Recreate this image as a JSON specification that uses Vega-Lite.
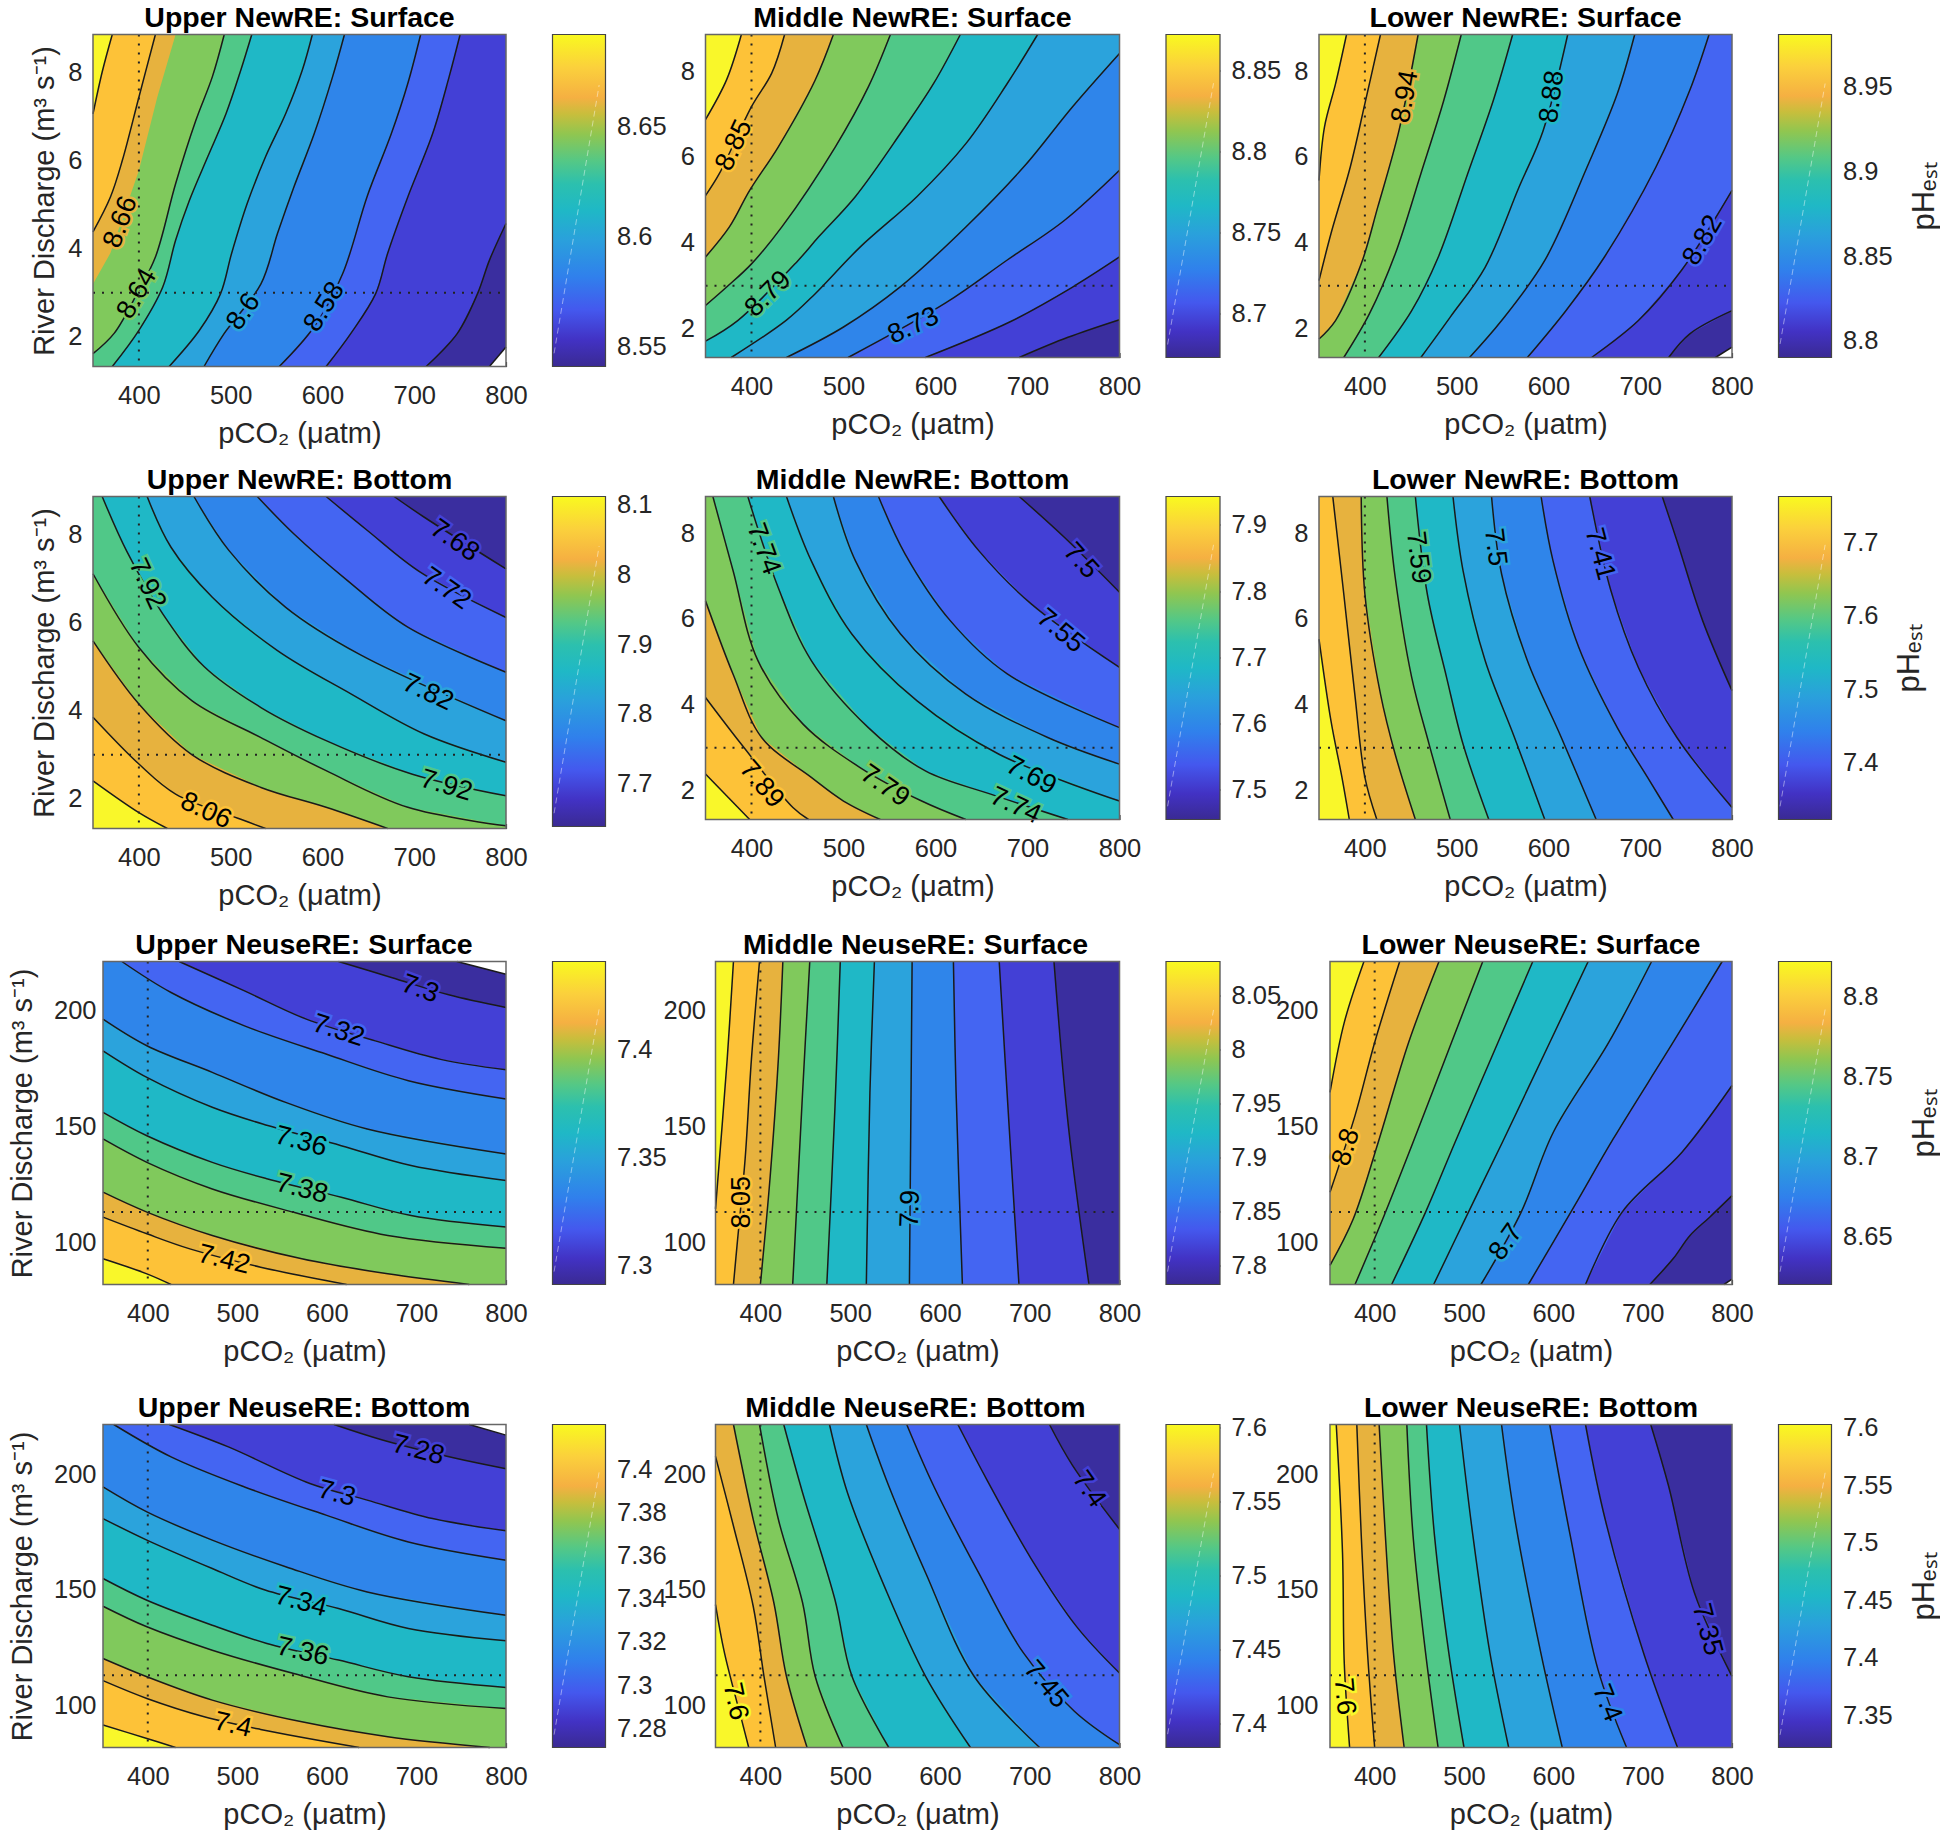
{"$schema":"https://vega.github.io/schema/vega-lite/v6.json","background":"white","padding":{"left":8,"top":3.5,"right":0,"bottom":0},"spacing":{"row":100,"column":46.5},"columns":8,"bounds":"flush","align":"each",
"config":{"view":{"stroke":null},"title":{"font":"Liberation Sans","fontSize":28.5,"fontWeight":"bold","color":"#000","offset":-1,"anchor":"middle"},"text":{"font":"Liberation Sans"},"axis":{"labelFont":"Liberation Sans","labelFontSize":25.5,"labelColor":"#262626","labelFlush":false,"labelOverlap":false,"titleFont":"Liberation Sans","titleFontSize":29,"titleFontWeight":"normal","titleColor":"#262626","grid":false,"domain":false,"tickSize":-5,"tickColor":"#333","tickWidth":1.2,"labelPadding":22,"zindex":1}},
"datasets":{
"a":[{"k":0,"x":800,"y":1.77},{"k":0,"x":782,"y":1.33},{"k":0,"x":350,"y":1.33,"e":1},{"k":0,"x":350,"y":8.85,"e":1},{"k":0,"x":800,"y":8.85,"e":1},
{"k":1,"x":800,"y":4.57},{"k":1,"x":782,"y":3.74},{"k":1,"x":769,"y":2.98},{"k":1,"x":747,"y":2.08},{"k":1,"x":713,"y":1.33},{"k":1,"x":350,"y":1.33,"e":1},{"k":1,"x":350,"y":8.85,"e":1},{"k":1,"x":800,"y":8.85,"e":1},
{"k":2,"x":750,"y":8.85},{"k":2,"x":738,"y":7.89},{"k":2,"x":720,"y":6.6},{"k":2,"x":693,"y":5.17},{"k":2,"x":671,"y":3.89},{"k":2,"x":658,"y":2.98},{"k":2,"x":631,"y":2.08},{"k":2,"x":604,"y":1.33},{"k":2,"x":350,"y":1.33,"e":1},{"k":2,"x":350,"y":8.85,"e":1},
{"k":3,"x":707,"y":8.85},{"k":3,"x":693,"y":7.74},{"k":3,"x":675,"y":6.6},{"k":3,"x":649,"y":5.2},{"k":3,"x":622,"y":3.43},{"k":3,"x":591,"y":2.23},{"k":3,"x":553,"y":1.33},{"k":3,"x":350,"y":1.33,"e":1},{"k":3,"x":350,"y":8.85,"e":1},
{"k":4,"x":624,"y":8.85},{"k":4,"x":611,"y":7.89},{"k":4,"x":591,"y":6.6},{"k":4,"x":569,"y":5.4},{"k":4,"x":551,"y":4.34},{"k":4,"x":533,"y":3.2},{"k":4,"x":493,"y":2.08},{"k":4,"x":471,"y":1.33},{"k":4,"x":350,"y":1.33,"e":1},{"k":4,"x":350,"y":8.85,"e":1},
{"k":5,"x":589,"y":8.85},{"k":5,"x":578,"y":8.04},{"k":5,"x":560,"y":7.06},{"k":5,"x":538,"y":6.08},{"k":5,"x":518,"y":5.02},{"k":5,"x":501,"y":3.89},{"k":5,"x":489,"y":2.98},{"k":5,"x":466,"y":2.15},{"k":5,"x":433,"y":1.33},{"k":5,"x":350,"y":1.33,"e":1},{"k":5,"x":350,"y":8.85,"e":1},
{"k":6,"x":523,"y":8.85},{"k":6,"x":511,"y":8.04},{"k":6,"x":495,"y":7.06},{"k":6,"x":475,"y":6.08},{"k":6,"x":455,"y":5.09},{"k":6,"x":440,"y":4.19},{"k":6,"x":426,"y":3.13},{"k":6,"x":400,"y":2.15},{"k":6,"x":371,"y":1.33},{"k":6,"x":350,"y":1.33,"e":1},{"k":6,"x":350,"y":8.85,"e":1},
{"k":7,"x":493,"y":8.85},{"k":7,"x":480,"y":7.89},{"k":7,"x":462,"y":6.9},{"k":7,"x":440,"y":5.47},{"k":7,"x":418,"y":3.81},{"k":7,"x":398,"y":2.98},{"k":7,"x":373,"y":2.08},{"k":7,"x":350,"y":1.62},{"k":7,"x":350,"y":8.85,"e":1},
{"k":8,"x":440,"y":8.85,"e":1},{"k":8,"x":420,"y":7.43,"e":1},{"k":8,"x":400,"y":5.77,"e":1},{"k":8,"x":369,"y":3.9,"e":1},{"k":8,"x":350,"y":3.2,"e":1},{"k":8,"x":350,"y":8.85,"e":1},
{"k":9,"x":418,"y":8.85},{"k":9,"x":400,"y":7.43},{"k":9,"x":382,"y":6},{"k":9,"x":369,"y":5.17},{"k":9,"x":350,"y":4.38},{"k":9,"x":350,"y":8.85,"e":1},
{"k":10,"x":371,"y":8.85},{"k":10,"x":360,"y":8},{"k":10,"x":350,"y":7.05},{"k":10,"x":350,"y":8.85,"e":1}],
"la":[{"x":380,"y":4.6,"t":"8.66","a":-70,"k":8},{"x":398,"y":2.98,"t":"8.64","a":-60,"k":7},{"x":514,"y":2.57,"t":"8.6","a":-55,"k":4},{"x":602,"y":2.68,"t":"8.58","a":-58,"k":3}],
"b":[{"k":0,"x":350,"y":1.33,"e":1},{"k":0,"x":800,"y":1.33,"e":1},{"k":0,"x":800,"y":8.85,"e":1},{"k":0,"x":350,"y":8.85,"e":1},
{"k":1,"x":800,"y":2.21},{"k":1,"x":744,"y":1.8},{"k":1,"x":691,"y":1.33},{"k":1,"x":350,"y":1.33,"e":1},{"k":1,"x":350,"y":8.85,"e":1},{"k":1,"x":800,"y":8.85,"e":1},
{"k":2,"x":800,"y":3.67},{"k":2,"x":749,"y":2.97},{"k":2,"x":680,"y":2.15},{"k":2,"x":589,"y":1.33},{"k":2,"x":350,"y":1.33,"e":1},{"k":2,"x":350,"y":8.85,"e":1},{"k":2,"x":800,"y":8.85,"e":1},
{"k":3,"x":800,"y":5.69},{"k":3,"x":740,"y":4.52},{"k":3,"x":678,"y":3.6},{"k":3,"x":611,"y":2.6},{"k":3,"x":505,"y":1.33},{"k":3,"x":350,"y":1.33,"e":1},{"k":3,"x":350,"y":8.85,"e":1},{"k":3,"x":800,"y":8.85,"e":1},
{"k":4,"x":800,"y":8.41},{"k":4,"x":749,"y":7.17},{"k":4,"x":696,"y":5.77},{"k":4,"x":633,"y":4.37},{"k":4,"x":562,"y":2.98},{"k":4,"x":500,"y":2.04},{"k":4,"x":438,"y":1.33},{"k":4,"x":350,"y":1.33,"e":1},{"k":4,"x":350,"y":8.85,"e":1},{"k":4,"x":800,"y":8.85,"e":1},
{"k":5,"x":711,"y":8.85},{"k":5,"x":678,"y":7.71},{"k":5,"x":633,"y":6.31},{"k":5,"x":580,"y":5.08},{"k":5,"x":518,"y":3.9},{"k":5,"x":469,"y":2.81},{"k":5,"x":438,"y":2.2},{"k":5,"x":378,"y":1.33},{"k":5,"x":350,"y":1.33,"e":1},{"k":5,"x":350,"y":8.85,"e":1},
{"k":6,"x":627,"y":8.85},{"k":6,"x":598,"y":7.71},{"k":6,"x":562,"y":6.55},{"k":6,"x":513,"y":5.08},{"k":6,"x":473,"y":4.14},{"k":6,"x":449,"y":3.55},{"k":6,"x":385,"y":2.19},{"k":6,"x":350,"y":1.71},{"k":6,"x":350,"y":8.85,"e":1},
{"k":7,"x":551,"y":8.85},{"k":7,"x":527,"y":7.63},{"k":7,"x":491,"y":6.23},{"k":7,"x":433,"y":4.37},{"k":7,"x":400,"y":3.51},{"k":7,"x":373,"y":2.97},{"k":7,"x":350,"y":2.54},{"k":7,"x":350,"y":8.85,"e":1},
{"k":8,"x":489,"y":8.85},{"k":8,"x":469,"y":7.78},{"k":8,"x":429,"y":6.23},{"k":8,"x":398,"y":5.22},{"k":8,"x":376,"y":4.37},{"k":8,"x":350,"y":3.67},{"k":8,"x":350,"y":8.85,"e":1},
{"k":9,"x":436,"y":8.85},{"k":9,"x":422,"y":7.95},{"k":9,"x":400,"y":7.17},{"k":9,"x":365,"y":5.61},{"k":9,"x":350,"y":5.1},{"k":9,"x":350,"y":8.85,"e":1},
{"k":10,"x":389,"y":8.85},{"k":10,"x":373,"y":7.8},{"k":10,"x":350,"y":6.87},{"k":10,"x":350,"y":8.85,"e":1}],
"lb":[{"x":381,"y":6.27,"t":"8.85","a":-65,"k":9},{"x":418,"y":2.81,"t":"8.79","a":-45,"k":6},{"x":576,"y":2.07,"t":"8.73","a":-25,"k":3}],
"c":[{"k":0,"x":800,"y":1.57},{"k":0,"x":782,"y":1.33},{"k":0,"x":350,"y":1.33,"e":1},{"k":0,"x":350,"y":8.85,"e":1},{"k":0,"x":800,"y":8.85,"e":1},
{"k":1,"x":800,"y":2.42},{"k":1,"x":754,"y":1.88},{"k":1,"x":731,"y":1.33},{"k":1,"x":350,"y":1.33,"e":1},{"k":1,"x":350,"y":8.85,"e":1},{"k":1,"x":800,"y":8.85,"e":1},
{"k":2,"x":800,"y":5.22},{"k":2,"x":745,"y":3.36},{"k":2,"x":698,"y":2.19},{"k":2,"x":647,"y":1.33},{"k":2,"x":350,"y":1.33,"e":1},{"k":2,"x":350,"y":8.85,"e":1},{"k":2,"x":800,"y":8.85,"e":1},
{"k":3,"x":775,"y":8.85},{"k":3,"x":754,"y":7.55},{"k":3,"x":717,"y":5.76},{"k":3,"x":661,"y":3.67},{"k":3,"x":619,"y":2.42},{"k":3,"x":577,"y":1.33},{"k":3,"x":350,"y":1.33,"e":1},{"k":3,"x":350,"y":8.85,"e":1},
{"k":4,"x":694,"y":8.85},{"k":4,"x":675,"y":7.47},{"k":4,"x":642,"y":5.76},{"k":4,"x":596,"y":3.59},{"k":4,"x":549,"y":2.19},{"k":4,"x":514,"y":1.33},{"k":4,"x":350,"y":1.33,"e":1},{"k":4,"x":350,"y":8.85,"e":1},
{"k":5,"x":621,"y":8.85},{"k":5,"x":594,"y":6.6},{"k":5,"x":568,"y":5.3},{"k":5,"x":531,"y":3.43},{"k":5,"x":493,"y":2.27},{"k":5,"x":461,"y":1.33},{"k":5,"x":350,"y":1.33,"e":1},{"k":5,"x":350,"y":8.85,"e":1},
{"k":6,"x":561,"y":8.85},{"k":6,"x":540,"y":7.32},{"k":6,"x":512,"y":5.61},{"k":6,"x":480,"y":3.67},{"k":6,"x":451,"y":2.42},{"k":6,"x":415,"y":1.33},{"k":6,"x":350,"y":1.33,"e":1},{"k":6,"x":350,"y":8.85,"e":1},
{"k":7,"x":505,"y":8.85},{"k":7,"x":486,"y":7.32},{"k":7,"x":461,"y":5.61},{"k":7,"x":433,"y":3.74},{"k":7,"x":405,"y":2.35},{"k":7,"x":377,"y":1.33},{"k":7,"x":350,"y":1.33,"e":1},{"k":7,"x":350,"y":8.85,"e":1},
{"k":8,"x":458,"y":8.85},{"k":8,"x":437,"y":6.6},{"k":8,"x":414,"y":4.83},{"k":8,"x":396,"y":3.51},{"k":8,"x":368,"y":2.19},{"k":8,"x":350,"y":1.76},{"k":8,"x":350,"y":8.85,"e":1},
{"k":9,"x":417,"y":8.85},{"k":9,"x":400,"y":7.24},{"k":9,"x":384,"y":5.76},{"k":9,"x":363,"y":4.21},{"k":9,"x":350,"y":3.12},{"k":9,"x":350,"y":8.85,"e":1},
{"k":10,"x":380,"y":8.85},{"k":10,"x":368,"y":7.7},{"k":10,"x":356,"y":6.7},{"k":10,"x":350,"y":5.45},{"k":10,"x":350,"y":8.85,"e":1}],
"lc":[{"x":444,"y":7.4,"t":"8.94","a":-80,"k":8},{"x":604,"y":7.4,"t":"8.88","a":-83,"k":5},{"x":768,"y":4.06,"t":"8.82","a":-60,"k":2}],
"d":[{"k":0,"x":350,"y":1.33,"e":1},{"k":0,"x":800,"y":1.33,"e":1},{"k":0,"x":800,"y":8.85,"e":1},{"k":0,"x":350,"y":8.85,"e":1},
{"k":1,"x":678,"y":8.85},{"k":1,"x":711,"y":8.38},{"k":1,"x":800,"y":7.21},{"k":1,"x":800,"y":1.33,"e":1},{"k":1,"x":350,"y":1.33,"e":1},{"k":1,"x":350,"y":8.85,"e":1},
{"k":2,"x":604,"y":8.85},{"k":2,"x":649,"y":8.08},{"k":2,"x":707,"y":7.13},{"k":2,"x":800,"y":6.11},{"k":2,"x":800,"y":1.33,"e":1},{"k":2,"x":350,"y":1.33,"e":1},{"k":2,"x":350,"y":8.85,"e":1},
{"k":3,"x":529,"y":8.85},{"k":3,"x":569,"y":8},{"k":3,"x":627,"y":6.95},{"k":3,"x":693,"y":5.89},{"k":3,"x":800,"y":4.87},{"k":3,"x":800,"y":1.33,"e":1},{"k":3,"x":350,"y":1.33,"e":1},{"k":3,"x":350,"y":8.85,"e":1},
{"k":4,"x":460,"y":8.85},{"k":4,"x":498,"y":7.63},{"k":4,"x":560,"y":6.34},{"k":4,"x":640,"y":5.28},{"k":4,"x":800,"y":3.77},{"k":4,"x":800,"y":1.33,"e":1},{"k":4,"x":350,"y":1.33,"e":1},{"k":4,"x":350,"y":8.85,"e":1},
{"k":5,"x":409,"y":8.85},{"k":5,"x":435,"y":7.7},{"k":5,"x":480,"y":6.57},{"k":5,"x":551,"y":5.36},{"k":5,"x":631,"y":4.38},{"k":5,"x":711,"y":3.47},{"k":5,"x":800,"y":2.83},{"k":5,"x":800,"y":1.33,"e":1},{"k":5,"x":350,"y":1.33,"e":1},{"k":5,"x":350,"y":8.85,"e":1},
{"k":6,"x":360,"y":8.85},{"k":6,"x":387,"y":7.6},{"k":6,"x":426,"y":6.19},{"k":6,"x":471,"y":5},{"k":6,"x":533,"y":4.07},{"k":6,"x":604,"y":3.32},{"k":6,"x":698,"y":2.56},{"k":6,"x":800,"y":2.07},{"k":6,"x":800,"y":1.33,"e":1},{"k":6,"x":350,"y":1.33,"e":1},{"k":6,"x":350,"y":8.85,"e":1},
{"k":7,"x":350,"y":7.1},{"k":7,"x":400,"y":5.43},{"k":7,"x":458,"y":4.22},{"k":7,"x":533,"y":3.39},{"k":7,"x":604,"y":2.64},{"k":7,"x":693,"y":1.81},{"k":7,"x":800,"y":1.39},{"k":7,"x":800,"y":1.33,"e":1},{"k":7,"x":350,"y":1.33,"e":1},
{"k":8,"x":350,"y":5.58},{"k":8,"x":400,"y":4.15},{"k":8,"x":458,"y":3},{"k":8,"x":533,"y":2.26},{"k":8,"x":604,"y":1.81},{"k":8,"x":671,"y":1.33},{"k":8,"x":350,"y":1.33,"e":1},
{"k":9,"x":350,"y":3.85},{"k":9,"x":400,"y":2.79},{"k":9,"x":440,"y":2.11},{"k":9,"x":511,"y":1.54},{"k":9,"x":538,"y":1.33},{"k":9,"x":350,"y":1.33,"e":1},
{"k":10,"x":350,"y":2.41},{"k":10,"x":400,"y":1.69},{"k":10,"x":431,"y":1.33},{"k":10,"x":350,"y":1.33,"e":1}],
"ld":[{"x":744,"y":7.85,"t":"7.68","a":35,"k":1},{"x":735,"y":6.76,"t":"7.72","a":35,"k":2},{"x":715,"y":4.41,"t":"7.82","a":25,"k":4},{"x":735,"y":2.3,"t":"7.92","a":17,"k":6},{"x":409,"y":6.87,"t":"7.92","a":65,"k":6},{"x":473,"y":1.73,"t":"8.06","a":25,"k":9}],
"e":[{"k":0,"x":350,"y":1.33,"e":1},{"k":0,"x":800,"y":1.33,"e":1},{"k":0,"x":800,"y":8.85,"e":1},{"k":0,"x":350,"y":8.85,"e":1},
{"k":1,"x":691,"y":8.85},{"k":1,"x":740,"y":7.9},{"k":1,"x":800,"y":6.62},{"k":1,"x":800,"y":1.33,"e":1},{"k":1,"x":350,"y":1.33,"e":1},{"k":1,"x":350,"y":8.85,"e":1},
{"k":2,"x":604,"y":8.85},{"k":2,"x":647,"y":7.59},{"k":2,"x":704,"y":6.35},{"k":2,"x":800,"y":4.87},{"k":2,"x":800,"y":1.33,"e":1},{"k":2,"x":350,"y":1.33,"e":1},{"k":2,"x":350,"y":8.85,"e":1},
{"k":3,"x":538,"y":8.85},{"k":3,"x":567,"y":7.51},{"k":3,"x":616,"y":5.96},{"k":3,"x":678,"y":4.72},{"k":3,"x":800,"y":3.47},{"k":3,"x":800,"y":1.33,"e":1},{"k":3,"x":350,"y":1.33,"e":1},{"k":3,"x":350,"y":8.85,"e":1},
{"k":4,"x":489,"y":8.85},{"k":4,"x":513,"y":7.35},{"k":4,"x":562,"y":5.65},{"k":4,"x":633,"y":4.25},{"k":4,"x":722,"y":3.24},{"k":4,"x":800,"y":2.62},{"k":4,"x":800,"y":1.33,"e":1},{"k":4,"x":350,"y":1.33,"e":1},{"k":4,"x":350,"y":8.85,"e":1},
{"k":5,"x":438,"y":8.85},{"k":5,"x":465,"y":7.35},{"k":5,"x":509,"y":5.65},{"k":5,"x":580,"y":4.09},{"k":5,"x":669,"y":2.85},{"k":5,"x":800,"y":1.76},{"k":5,"x":800,"y":1.33,"e":1},{"k":5,"x":350,"y":1.33,"e":1},{"k":5,"x":350,"y":8.85,"e":1},
{"k":6,"x":396,"y":8.85},{"k":6,"x":429,"y":6.73},{"k":6,"x":465,"y":5.03},{"k":6,"x":527,"y":3.47},{"k":6,"x":589,"y":2.46},{"k":6,"x":660,"y":1.92},{"k":6,"x":744,"y":1.33},{"k":6,"x":350,"y":1.33,"e":1},{"k":6,"x":350,"y":8.85,"e":1},
{"k":7,"x":358,"y":8.85},{"k":7,"x":380,"y":7.12},{"k":7,"x":407,"y":5.03},{"k":7,"x":456,"y":3.55},{"k":7,"x":518,"y":2.54},{"k":7,"x":585,"y":1.76},{"k":7,"x":633,"y":1.33},{"k":7,"x":350,"y":1.33,"e":1},{"k":7,"x":350,"y":8.85,"e":1},
{"k":8,"x":350,"y":6.42},{"k":8,"x":380,"y":4.71},{"k":8,"x":411,"y":3.24},{"k":8,"x":465,"y":2.31},{"k":8,"x":500,"y":1.76},{"k":8,"x":540,"y":1.33},{"k":8,"x":350,"y":1.33,"e":1},
{"k":9,"x":350,"y":4.17},{"k":9,"x":389,"y":3.08},{"k":9,"x":445,"y":1.61},{"k":9,"x":462,"y":1.33},{"k":9,"x":350,"y":1.33,"e":1},
{"k":10,"x":350,"y":2.39},{"k":10,"x":398,"y":1.33},{"k":10,"x":350,"y":1.33,"e":1}],
"le":[{"x":758,"y":7.35,"t":"7.5","a":48,"k":1},{"x":736,"y":5.72,"t":"7.55","a":40,"k":2},{"x":704,"y":2.35,"t":"7.69","a":28,"k":5},{"x":687,"y":1.65,"t":"7.74","a":25,"k":6},{"x":545,"y":2.11,"t":"7.79","a":35,"k":7},{"x":411,"y":2.15,"t":"7.89","a":50,"k":9},{"x":413,"y":7.63,"t":"7.74","a":70,"k":6}],
"f":[{"k":0,"x":350,"y":1.33,"e":1},{"k":0,"x":800,"y":1.33,"e":1},{"k":0,"x":800,"y":8.85,"e":1},{"k":0,"x":350,"y":8.85,"e":1},
{"k":1,"x":724,"y":8.85},{"k":1,"x":740,"y":7.82},{"k":1,"x":768,"y":5.96},{"k":1,"x":800,"y":4.33},{"k":1,"x":800,"y":1.33,"e":1},{"k":1,"x":350,"y":1.33,"e":1},{"k":1,"x":350,"y":8.85,"e":1},
{"k":2,"x":645,"y":8.85},{"k":2,"x":668,"y":6.66},{"k":2,"x":698,"y":4.87},{"k":2,"x":740,"y":3.24},{"k":2,"x":800,"y":1.61},{"k":2,"x":800,"y":1.33,"e":1},{"k":2,"x":350,"y":1.33,"e":1},{"k":2,"x":350,"y":8.85,"e":1},
{"k":3,"x":592,"y":8.85},{"k":3,"x":605,"y":7.35},{"k":3,"x":633,"y":5.34},{"k":3,"x":675,"y":3.47},{"k":3,"x":708,"y":2.31},{"k":3,"x":736,"y":1.33},{"k":3,"x":350,"y":1.33,"e":1},{"k":3,"x":350,"y":8.85,"e":1},
{"k":4,"x":538,"y":8.85},{"k":4,"x":549,"y":7.04},{"k":4,"x":577,"y":5.03},{"k":4,"x":614,"y":3.24},{"k":4,"x":652,"y":1.33},{"k":4,"x":350,"y":1.33,"e":1},{"k":4,"x":350,"y":8.85,"e":1},
{"k":5,"x":496,"y":8.85},{"k":5,"x":507,"y":7.12},{"k":5,"x":531,"y":5.03},{"k":5,"x":563,"y":3.24},{"k":5,"x":596,"y":1.33},{"k":5,"x":350,"y":1.33,"e":1},{"k":5,"x":350,"y":8.85,"e":1},
{"k":6,"x":455,"y":8.85},{"k":6,"x":468,"y":6.58},{"k":6,"x":489,"y":4.64},{"k":6,"x":507,"y":3.08},{"k":6,"x":535,"y":1.33},{"k":6,"x":350,"y":1.33,"e":1},{"k":6,"x":350,"y":8.85,"e":1},
{"k":7,"x":424,"y":8.85},{"k":7,"x":433,"y":6.97},{"k":7,"x":451,"y":4.64},{"k":7,"x":470,"y":3.08},{"k":7,"x":493,"y":1.33},{"k":7,"x":350,"y":1.33,"e":1},{"k":7,"x":350,"y":8.85,"e":1},
{"k":8,"x":396,"y":8.85},{"k":8,"x":400,"y":6.58},{"k":8,"x":417,"y":4.25},{"k":8,"x":433,"y":2.85},{"k":8,"x":455,"y":1.33},{"k":8,"x":350,"y":1.33,"e":1},{"k":8,"x":350,"y":8.85,"e":1},
{"k":9,"x":365,"y":8.85},{"k":9,"x":377,"y":6.58},{"k":9,"x":389,"y":4.25},{"k":9,"x":400,"y":2.31},{"k":9,"x":413,"y":1.33},{"k":9,"x":350,"y":1.33,"e":1},{"k":9,"x":350,"y":8.85,"e":1},
{"k":10,"x":350,"y":5.53},{"k":10,"x":363,"y":3.63},{"k":10,"x":375,"y":2.31},{"k":10,"x":383,"y":1.33},{"k":10,"x":350,"y":1.33,"e":1}],
"lf":[{"x":458,"y":7.43,"t":"7.59","a":83,"k":6},{"x":542,"y":7.67,"t":"7.5","a":83,"k":4},{"x":656,"y":7.51,"t":"7.41","a":75,"k":2}],
"g":[{"k":0,"x":745,"y":221.3},{"k":0,"x":800,"y":215.8},{"k":0,"x":800,"y":81.7,"e":1},{"k":0,"x":350,"y":81.7,"e":1},{"k":0,"x":350,"y":221.3,"e":1},
{"k":1,"x":613,"y":221.3},{"k":1,"x":672,"y":214.4},{"k":1,"x":736,"y":206.9},{"k":1,"x":800,"y":201.4},{"k":1,"x":800,"y":81.7,"e":1},{"k":1,"x":350,"y":81.7,"e":1},{"k":1,"x":350,"y":221.3,"e":1},
{"k":2,"x":435,"y":221.3},{"k":2,"x":508,"y":208.6},{"k":2,"x":577,"y":196.4},{"k":2,"x":654,"y":187},{"k":2,"x":727,"y":179},{"k":2,"x":800,"y":174.5},{"k":2,"x":800,"y":81.7,"e":1},{"k":2,"x":350,"y":81.7,"e":1},{"k":2,"x":350,"y":221.3,"e":1},
{"k":3,"x":371,"y":221.3},{"k":3,"x":426,"y":207.9},{"k":3,"x":508,"y":193.5},{"k":3,"x":599,"y":181.3},{"k":3,"x":691,"y":169.8},{"k":3,"x":800,"y":161.9},{"k":3,"x":800,"y":81.7,"e":1},{"k":3,"x":350,"y":81.7,"e":1},{"k":3,"x":350,"y":221.3,"e":1},
{"k":4,"x":350,"y":196.4},{"k":4,"x":399,"y":184.9},{"k":4,"x":472,"y":173.4},{"k":4,"x":554,"y":160.4},{"k":4,"x":645,"y":148.9},{"k":4,"x":800,"y":138.1},{"k":4,"x":800,"y":81.7,"e":1},{"k":4,"x":350,"y":81.7,"e":1},
{"k":5,"x":350,"y":182.7},{"k":5,"x":399,"y":171.2},{"k":5,"x":472,"y":158.3},{"k":5,"x":534,"y":150.4},{"k":5,"x":616,"y":141.7},{"k":5,"x":694,"y":133.1},{"k":5,"x":800,"y":126.6},{"k":5,"x":800,"y":81.7,"e":1},{"k":5,"x":350,"y":81.7,"e":1},
{"k":6,"x":350,"y":156.1},{"k":6,"x":399,"y":146},{"k":6,"x":472,"y":134.5},{"k":6,"x":534,"y":127.3},{"k":6,"x":616,"y":119.4},{"k":6,"x":694,"y":111.5},{"k":6,"x":800,"y":106.5},{"k":6,"x":800,"y":81.7,"e":1},{"k":6,"x":350,"y":81.7,"e":1},
{"k":7,"x":350,"y":144.6},{"k":7,"x":399,"y":134.5},{"k":7,"x":472,"y":123},{"k":7,"x":563,"y":112.9},{"k":7,"x":668,"y":102.9},{"k":7,"x":800,"y":97.4},{"k":7,"x":800,"y":81.7,"e":1},{"k":7,"x":350,"y":81.7,"e":1},
{"k":8,"x":350,"y":121.6},{"k":8,"x":399,"y":113},{"k":8,"x":472,"y":102.9},{"k":8,"x":572,"y":92.8},{"k":8,"x":668,"y":86.3},{"k":8,"x":759,"y":81.7},{"k":8,"x":350,"y":81.7,"e":1},
{"k":9,"x":350,"y":110.8},{"k":9,"x":399,"y":103.6},{"k":9,"x":447,"y":97.1},{"k":9,"x":526,"y":89.2},{"k":9,"x":622,"y":81.7},{"k":9,"x":350,"y":81.7,"e":1},
{"k":10,"x":350,"y":92.8},{"k":10,"x":399,"y":86.3},{"k":10,"x":426,"y":81.7},{"k":10,"x":350,"y":81.7,"e":1}],
"lg":[{"x":704,"y":209.4,"t":"7.3","a":20,"k":1},{"x":613,"y":191.4,"t":"7.32","a":18,"k":2},{"x":571,"y":143.5,"t":"7.36","a":15,"k":5},{"x":572,"y":123,"t":"7.38","a":14,"k":6},{"x":485,"y":92.4,"t":"7.42","a":14,"k":9}],
"h":[{"k":0,"x":350,"y":81.7,"e":1},{"k":0,"x":800,"y":81.7,"e":1},{"k":0,"x":800,"y":221.3,"e":1},{"k":0,"x":350,"y":221.3,"e":1},
{"k":1,"x":727,"y":221.3},{"k":1,"x":743,"y":150.4},{"k":1,"x":766,"y":81.7},{"k":1,"x":350,"y":81.7,"e":1},{"k":1,"x":350,"y":221.3,"e":1},
{"k":2,"x":666,"y":221.3},{"k":2,"x":677,"y":150.4},{"k":2,"x":688,"y":81.7},{"k":2,"x":350,"y":81.7,"e":1},{"k":2,"x":350,"y":221.3,"e":1},
{"k":3,"x":615,"y":221.3},{"k":3,"x":618,"y":164.7},{"k":3,"x":625,"y":81.7},{"k":3,"x":350,"y":81.7,"e":1},{"k":3,"x":350,"y":221.3,"e":1},
{"k":4,"x":569,"y":221.3},{"k":4,"x":567,"y":127.3},{"k":4,"x":566,"y":81.7},{"k":4,"x":350,"y":81.7,"e":1},{"k":4,"x":350,"y":221.3,"e":1},
{"k":5,"x":527,"y":221.3},{"k":5,"x":522,"y":164.7},{"k":5,"x":518,"y":81.7},{"k":5,"x":350,"y":81.7,"e":1},{"k":5,"x":350,"y":221.3,"e":1},
{"k":6,"x":489,"y":221.3},{"k":6,"x":483,"y":157.6},{"k":6,"x":474,"y":81.7},{"k":6,"x":350,"y":81.7,"e":1},{"k":6,"x":350,"y":221.3,"e":1},
{"k":7,"x":455,"y":221.3},{"k":7,"x":447,"y":164.7},{"k":7,"x":436,"y":81.7},{"k":7,"x":350,"y":81.7,"e":1},{"k":7,"x":350,"y":221.3,"e":1},
{"k":8,"x":425,"y":221.3},{"k":8,"x":420,"y":179},{"k":8,"x":411,"y":128.8},{"k":8,"x":400,"y":81.7},{"k":8,"x":350,"y":81.7,"e":1},{"k":8,"x":350,"y":221.3,"e":1},
{"k":9,"x":399,"y":221.3},{"k":9,"x":390,"y":179},{"k":9,"x":383,"y":136},{"k":9,"x":374,"y":98.6},{"k":9,"x":370,"y":81.7},{"k":9,"x":350,"y":81.7,"e":1},{"k":9,"x":350,"y":221.3,"e":1},
{"k":10,"x":370,"y":221.3},{"k":10,"x":363,"y":179},{"k":10,"x":350,"y":114.4},{"k":10,"x":350,"y":221.3,"e":1}],
"lh":[{"x":379,"y":117.3,"t":"8.05","a":-90,"k":9},{"x":567,"y":114.4,"t":"7.9","a":-88,"k":4}],
"i":[{"k":0,"x":800,"y":84},{"k":0,"x":791,"y":81.7},{"k":0,"x":350,"y":81.7,"e":1},{"k":0,"x":350,"y":221.3,"e":1},{"k":0,"x":800,"y":221.3,"e":1},
{"k":1,"x":800,"y":120.1},{"k":1,"x":775,"y":110.8},{"k":1,"x":753,"y":102.9},{"k":1,"x":734,"y":92.8},{"k":1,"x":708,"y":81.7},{"k":1,"x":350,"y":81.7,"e":1},{"k":1,"x":350,"y":221.3,"e":1},{"k":1,"x":800,"y":221.3,"e":1},
{"k":2,"x":800,"y":167.7},{"k":2,"x":744,"y":138.9},{"k":2,"x":677,"y":113},{"k":2,"x":636,"y":81.7},{"k":2,"x":350,"y":81.7,"e":1},{"k":2,"x":350,"y":221.3,"e":1},{"k":2,"x":800,"y":221.3,"e":1},
{"k":3,"x":789,"y":221.3},{"k":3,"x":734,"y":186.3},{"k":3,"x":667,"y":144.6},{"k":3,"x":624,"y":115.9},{"k":3,"x":572,"y":81.7},{"k":3,"x":350,"y":81.7,"e":1},{"k":3,"x":350,"y":221.3,"e":1},
{"k":4,"x":710,"y":221.3},{"k":4,"x":662,"y":186.3},{"k":4,"x":600,"y":147.5},{"k":4,"x":564,"y":113},{"k":4,"x":519,"y":81.7},{"k":4,"x":350,"y":81.7,"e":1},{"k":4,"x":350,"y":221.3,"e":1},
{"k":5,"x":639,"y":221.3},{"k":5,"x":596,"y":186.3},{"k":5,"x":543,"y":143.2},{"k":5,"x":505,"y":113},{"k":5,"x":466,"y":81.7},{"k":5,"x":350,"y":81.7,"e":1},{"k":5,"x":350,"y":221.3,"e":1},
{"k":6,"x":577,"y":221.3},{"k":6,"x":538,"y":186.3},{"k":6,"x":490,"y":143.2},{"k":6,"x":457,"y":113},{"k":6,"x":419,"y":81.7},{"k":6,"x":350,"y":81.7,"e":1},{"k":6,"x":350,"y":221.3,"e":1},
{"k":7,"x":521,"y":221.3},{"k":7,"x":486,"y":186.3},{"k":7,"x":443,"y":143.2},{"k":7,"x":409,"y":110},{"k":7,"x":378,"y":81.7},{"k":7,"x":350,"y":81.7,"e":1},{"k":7,"x":350,"y":221.3,"e":1},
{"k":8,"x":472,"y":221.3},{"k":8,"x":438,"y":186.3},{"k":8,"x":404,"y":143.2},{"k":8,"x":376,"y":110},{"k":8,"x":350,"y":90},{"k":8,"x":350,"y":221.3,"e":1},
{"k":9,"x":428,"y":221.3},{"k":9,"x":400,"y":186.3},{"k":9,"x":378,"y":154.7},{"k":9,"x":350,"y":121.6},{"k":9,"x":350,"y":221.3,"e":1},
{"k":10,"x":388,"y":221.3},{"k":10,"x":366,"y":195},{"k":10,"x":350,"y":164.7},{"k":10,"x":350,"y":221.3,"e":1}],
"li":[{"x":368,"y":141,"t":"8.8","a":-72,"k":9},{"x":547,"y":100,"t":"8.7","a":-55,"k":4}],
"j":[{"k":0,"x":759,"y":221.5},{"k":0,"x":800,"y":216.9},{"k":0,"x":800,"y":81.8,"e":1},{"k":0,"x":350,"y":81.8,"e":1},{"k":0,"x":350,"y":221.5,"e":1},
{"k":1,"x":608,"y":221.5},{"k":1,"x":663,"y":214.7},{"k":1,"x":745,"y":206.8},{"k":1,"x":800,"y":202.4},{"k":1,"x":800,"y":81.8,"e":1},{"k":1,"x":350,"y":81.8,"e":1},{"k":1,"x":350,"y":221.5,"e":1},
{"k":2,"x":424,"y":221.5},{"k":2,"x":490,"y":211.8},{"k":2,"x":581,"y":196},{"k":2,"x":645,"y":188.8},{"k":2,"x":718,"y":180.8},{"k":2,"x":800,"y":175.5},{"k":2,"x":800,"y":81.8,"e":1},{"k":2,"x":350,"y":81.8,"e":1},{"k":2,"x":350,"y":221.5,"e":1},
{"k":3,"x":362,"y":221.5},{"k":3,"x":426,"y":207.5},{"k":3,"x":508,"y":194.5},{"k":3,"x":599,"y":182.3},{"k":3,"x":691,"y":170.7},{"k":3,"x":800,"y":162.8},{"k":3,"x":800,"y":81.8,"e":1},{"k":3,"x":350,"y":81.8,"e":1},{"k":3,"x":350,"y":221.5,"e":1},
{"k":4,"x":350,"y":194.5},{"k":4,"x":399,"y":183.7},{"k":4,"x":472,"y":171.5},{"k":4,"x":554,"y":160},{"k":4,"x":645,"y":149.1},{"k":4,"x":800,"y":139},{"k":4,"x":800,"y":81.8,"e":1},{"k":4,"x":350,"y":81.8,"e":1},
{"k":5,"x":350,"y":180.8},{"k":5,"x":399,"y":171.5},{"k":5,"x":472,"y":159.2},{"k":5,"x":531,"y":149.9},{"k":5,"x":613,"y":141.9},{"k":5,"x":691,"y":133.3},{"k":5,"x":800,"y":128},{"k":5,"x":800,"y":81.8,"e":1},{"k":5,"x":350,"y":81.8,"e":1},
{"k":6,"x":350,"y":154.9},{"k":6,"x":399,"y":145.5},{"k":6,"x":472,"y":134.7},{"k":6,"x":533,"y":126.8},{"k":6,"x":613,"y":119.6},{"k":6,"x":691,"y":112.4},{"k":6,"x":800,"y":107.8},{"k":6,"x":800,"y":81.8,"e":1},{"k":6,"x":350,"y":81.8,"e":1},
{"k":7,"x":350,"y":142.9},{"k":7,"x":399,"y":134},{"k":7,"x":472,"y":123.9},{"k":7,"x":563,"y":113.8},{"k":7,"x":668,"y":103.7},{"k":7,"x":800,"y":98.7},{"k":7,"x":800,"y":81.8,"e":1},{"k":7,"x":350,"y":81.8,"e":1},
{"k":8,"x":350,"y":120.3},{"k":8,"x":399,"y":112.4},{"k":8,"x":472,"y":102.3},{"k":8,"x":572,"y":92.9},{"k":8,"x":668,"y":86.5},{"k":8,"x":782,"y":81.8},{"k":8,"x":350,"y":81.8,"e":1},
{"k":9,"x":350,"y":110.7},{"k":9,"x":399,"y":103},{"k":9,"x":463,"y":95.1},{"k":9,"x":526,"y":89.6},{"k":9,"x":636,"y":81.8},{"k":9,"x":350,"y":81.8,"e":1},
{"k":10,"x":350,"y":91.5},{"k":10,"x":399,"y":85.7},{"k":10,"x":431,"y":81.8},{"k":10,"x":350,"y":81.8,"e":1}],
"lj":[{"x":702,"y":210.4,"t":"7.28","a":15,"k":1},{"x":611,"y":191.6,"t":"7.3","a":15,"k":2},{"x":571,"y":144.8,"t":"7.34","a":15,"k":5},{"x":573,"y":123.2,"t":"7.36","a":13,"k":6},{"x":495,"y":91.5,"t":"7.4","a":13,"k":9}],
"m":[{"k":0,"x":350,"y":81.8,"e":1},{"k":0,"x":800,"y":81.8,"e":1},{"k":0,"x":800,"y":221.5,"e":1},{"k":0,"x":350,"y":221.5,"e":1},
{"k":1,"x":722,"y":221.5},{"k":1,"x":748,"y":203.6},{"k":1,"x":800,"y":176.2},{"k":1,"x":800,"y":81.8,"e":1},{"k":1,"x":350,"y":81.8,"e":1},{"k":1,"x":350,"y":221.5,"e":1},
{"k":2,"x":620,"y":221.5},{"k":2,"x":652,"y":197.8},{"k":2,"x":702,"y":163.2},{"k":2,"x":752,"y":134.2},{"k":2,"x":800,"y":114},{"k":2,"x":800,"y":81.8,"e":1},{"k":2,"x":350,"y":81.8,"e":1},{"k":2,"x":350,"y":221.5,"e":1},
{"k":3,"x":563,"y":221.5},{"k":3,"x":593,"y":194.9},{"k":3,"x":643,"y":157.4},{"k":3,"x":693,"y":122.7},{"k":3,"x":750,"y":97.4},{"k":3,"x":800,"y":83},{"k":3,"x":800,"y":81.8,"e":1},{"k":3,"x":350,"y":81.8,"e":1},{"k":3,"x":350,"y":221.5,"e":1},
{"k":4,"x":518,"y":221.5},{"k":4,"x":543,"y":194.9},{"k":4,"x":584,"y":157.4},{"k":4,"x":638,"y":112.6},{"k":4,"x":711,"y":81.8},{"k":4,"x":350,"y":81.8,"e":1},{"k":4,"x":350,"y":221.5,"e":1},
{"k":5,"x":477,"y":221.5},{"k":5,"x":497,"y":192},{"k":5,"x":538,"y":151.6},{"k":5,"x":584,"y":112.6},{"k":5,"x":634,"y":81.8},{"k":5,"x":350,"y":81.8,"e":1},{"k":5,"x":350,"y":221.5,"e":1},
{"k":6,"x":426,"y":221.5},{"k":6,"x":447,"y":192},{"k":6,"x":483,"y":145.8},{"k":6,"x":502,"y":112.6},{"k":6,"x":543,"y":81.8},{"k":6,"x":350,"y":81.8,"e":1},{"k":6,"x":350,"y":221.5,"e":1},
{"k":7,"x":399,"y":221.5},{"k":7,"x":420,"y":180.5},{"k":7,"x":447,"y":144.4},{"k":7,"x":461,"y":112.6},{"k":7,"x":492,"y":81.8},{"k":7,"x":350,"y":81.8,"e":1},{"k":7,"x":350,"y":221.5,"e":1},
{"k":8,"x":370,"y":221.5},{"k":8,"x":392,"y":180.5},{"k":8,"x":415,"y":144.4},{"k":8,"x":429,"y":112.6},{"k":8,"x":452,"y":81.8},{"k":8,"x":350,"y":81.8,"e":1},{"k":8,"x":350,"y":221.5,"e":1},
{"k":9,"x":350,"y":207.7},{"k":9,"x":370,"y":177.6},{"k":9,"x":392,"y":142.9},{"k":9,"x":404,"y":112.6},{"k":9,"x":417,"y":81.8},{"k":9,"x":350,"y":81.8,"e":1},
{"k":10,"x":350,"y":143.6},{"k":10,"x":360,"y":122.7},{"k":10,"x":381,"y":90.9},{"k":10,"x":387,"y":81.8},{"k":10,"x":350,"y":81.8,"e":1}],
"lm":[{"x":766,"y":193.5,"t":"7.4","a":55,"k":1},{"x":718,"y":109,"t":"7.45","a":50,"k":3},{"x":372,"y":101.7,"t":"7.6","a":78,"k":10}],
"n":[{"k":0,"x":350,"y":81.8,"e":1},{"k":0,"x":800,"y":81.8,"e":1},{"k":0,"x":800,"y":221.5,"e":1},{"k":0,"x":350,"y":221.5,"e":1},
{"k":1,"x":709,"y":221.5},{"k":1,"x":729,"y":194.9},{"k":1,"x":758,"y":148.6},{"k":1,"x":800,"y":112.6},{"k":1,"x":800,"y":81.8,"e":1},{"k":1,"x":350,"y":81.8,"e":1},{"k":1,"x":350,"y":221.5,"e":1},
{"k":2,"x":636,"y":221.5},{"k":2,"x":658,"y":180.5},{"k":2,"x":701,"y":122.7},{"k":2,"x":739,"y":81.8},{"k":2,"x":350,"y":81.8,"e":1},{"k":2,"x":350,"y":221.5,"e":1},
{"k":3,"x":596,"y":221.5},{"k":3,"x":619,"y":173.3},{"k":3,"x":650,"y":115.5},{"k":3,"x":682,"y":81.8},{"k":3,"x":350,"y":81.8,"e":1},{"k":3,"x":350,"y":221.5,"e":1},
{"k":4,"x":542,"y":221.5},{"k":4,"x":557,"y":180.5},{"k":4,"x":586,"y":122.7},{"k":4,"x":610,"y":81.8},{"k":4,"x":350,"y":81.8,"e":1},{"k":4,"x":350,"y":221.5,"e":1},
{"k":5,"x":495,"y":221.5},{"k":5,"x":510,"y":173.3},{"k":5,"x":529,"y":122.7},{"k":5,"x":550,"y":81.8},{"k":5,"x":350,"y":81.8,"e":1},{"k":5,"x":350,"y":221.5,"e":1},
{"k":6,"x":458,"y":221.5},{"k":6,"x":467,"y":173.3},{"k":6,"x":483,"y":122.7},{"k":6,"x":500,"y":81.8},{"k":6,"x":350,"y":81.8,"e":1},{"k":6,"x":350,"y":221.5,"e":1},
{"k":7,"x":436,"y":221.5},{"k":7,"x":443,"y":173.3},{"k":7,"x":457,"y":122.7},{"k":7,"x":471,"y":81.8},{"k":7,"x":350,"y":81.8,"e":1},{"k":7,"x":350,"y":221.5,"e":1},
{"k":8,"x":405,"y":221.5},{"k":8,"x":412,"y":173.3},{"k":8,"x":421,"y":122.7},{"k":8,"x":433,"y":81.8},{"k":8,"x":350,"y":81.8,"e":1},{"k":8,"x":350,"y":221.5,"e":1},
{"k":9,"x":380,"y":221.5},{"k":9,"x":385,"y":173.3},{"k":9,"x":392,"y":122.7},{"k":9,"x":400,"y":81.8},{"k":9,"x":350,"y":81.8,"e":1},{"k":9,"x":350,"y":221.5,"e":1},
{"k":10,"x":357,"y":221.5},{"k":10,"x":364,"y":166},{"k":10,"x":366,"y":118},{"k":10,"x":372,"y":81.8},{"k":10,"x":350,"y":81.8,"e":1},{"k":10,"x":350,"y":221.5,"e":1}],
"ln":[{"x":772,"y":132.8,"t":"7.35","a":75,"k":1},{"x":660,"y":101,"t":"7.4","a":68,"k":3},{"x":366,"y":103.9,"t":"7.6","a":85,"k":10}]
},
"concat":[
{"width":413,"height":332,"title":"Upper NewRE: Surface","data":{"name":"a"},"encoding":{"x":{"field":"x","type":"quantitative","scale":{"domain":[350,800],"nice":false,"zero":false},"axis":{"title":"pCO₂ (μatm)","values":[400,500,600,700,800],"titlePadding":10}},"y":{"field":"y","type":"quantitative","scale":{"domain":[1.33,8.85],"nice":false,"zero":false},"axis":{"title":"River Discharge (m³ s⁻¹)","values":[2,4,6,8],"titlePadding":8,"labelPadding":16}}},"layer":[
{"mark":{"type":"line","strokeWidth":0},"encoding":{"fill":{"field":"k","type":"ordinal","scale":{"domain":[0,1,2,3,4,5,6,7,8,9,10],"range":["#3A2E9F","#4340D6","#4465F2","#2F85EA","#2BA3DC","#1FB8C6","#50C888","#80C95C","#E7B23E","#FDC238","#F9F72A"]},"legend":null},"order":{"value":null}}},
{"transform":[{"filter":"datum.e!=1"}],"mark":{"type":"line","stroke":"#1a1a1a","strokeWidth":1.5,"interpolate":"catmull-rom"},"encoding":{"detail":{"field":"k"},"order":{"value":null}}},
{"data":{"name":"la"},"mark":{"type":"text","fontSize":27,"strokeWidth":5,"clip":true},"encoding":{"text":{"field":"t"},"angle":{"field":"a","type":"quantitative","scale":null},"stroke":{"field":"k","type":"ordinal","scale":{"domain":[0,1,2,3,4,5,6,7,8,9,10],"range":["#3A2E9F","#4340D6","#4465F2","#2F85EA","#2BA3DC","#1FB8C6","#50C888","#80C95C","#E7B23E","#FDC238","#F9F72A"]},"legend":null}}},
{"data":{"name":"la"},"mark":{"type":"text","fontSize":27,"fill":"#000"},"encoding":{"text":{"field":"t"},"angle":{"field":"a","type":"quantitative","scale":null}}},
{"data":{"values":[{"x":400,"y":8.85,"y2":1.33}]},"mark":{"type":"rule","strokeDash":[2,7],"strokeWidth":2,"stroke":"#222"},"encoding":{"y2":{"field":"y2"}}},
{"data":{"values":[{"x":350,"x2":800,"y":3}]},"mark":{"type":"rule","strokeDash":[2,7],"strokeWidth":2,"stroke":"#222"},"encoding":{"x2":{"field":"x2"}}},
{"data":{"values":[{"x":350,"x2":800,"y":1.33,"y2":8.85}]},"mark":{"type":"rect","fillOpacity":0,"stroke":"#666","strokeWidth":1.5},"encoding":{"x2":{"field":"x2"},"y2":{"field":"y2"}}}
]},
{"width":53,"height":332,"data":{"values":[{"x":0,"x2":1,"y":8.541,"y2":8.692}]},"encoding":{"x":{"field":"x","type":"quantitative","scale":{"domain":[0,1],"nice":false},"axis":null},"y":{"field":"y","type":"quantitative","scale":{"domain":[8.541,8.692],"nice":false,"zero":false},"axis":{"orient":"right","values":[8.55,8.6,8.65],"format":"~g","title":null,"labelPadding":16}}},"layer":[{"mark":{"type":"rect","stroke":"#444","strokeWidth":1.2,"fill":{"gradient":"linear","x1":0,"y1":1,"x2":0,"y2":0,"stops":[{"offset":0,"color":"#3A2A93"},{"offset":0.08,"color":"#4232C4"},{"offset":0.17,"color":"#4458EE"},{"offset":0.27,"color":"#3080EC"},{"offset":0.38,"color":"#2AA0DC"},{"offset":0.47,"color":"#1FB8C6"},{"offset":0.55,"color":"#2CC0AE"},{"offset":0.62,"color":"#55C885"},{"offset":0.7,"color":"#90C650"},{"offset":0.76,"color":"#C8BE3C"},{"offset":0.81,"color":"#F5B042"},{"offset":0.9,"color":"#FBD03C"},{"offset":1,"color":"#F9F91F"}]}},"encoding":{"x2":{"field":"x2"},"y2":{"field":"y2"}}},{"data":{"values":[{"x":0.03,"x2":0.88,"y":8.547,"y2":8.669}]},"mark":{"type":"rule","stroke":"#fff","strokeDash":[6,4],"opacity":0.45,"strokeWidth":1},"encoding":{"x2":{"field":"x2"},"y2":{"field":"y2"}}}]},
{"width":7,"height":362,"data":{"values":[{}]},"mark":{"type":"rule","opacity":0},"encoding":{}},
{"width":414,"height":323,"title":"Middle NewRE: Surface","data":{"name":"b"},"encoding":{"x":{"field":"x","type":"quantitative","scale":{"domain":[350,800],"nice":false,"zero":false},"axis":{"title":"pCO₂ (μatm)","values":[400,500,600,700,800],"titlePadding":10}},"y":{"field":"y","type":"quantitative","scale":{"domain":[1.33,8.85],"nice":false,"zero":false},"axis":{"title":null,"values":[2,4,6,8],"labelPadding":16}}},"layer":[
{"mark":{"type":"line","strokeWidth":0},"encoding":{"fill":{"field":"k","type":"ordinal","scale":{"domain":[0,1,2,3,4,5,6,7,8,9,10],"range":["#3A2E9F","#4340D6","#4465F2","#2F85EA","#2BA3DC","#21BBB8","#50CA8A","#A9C23F","#EDB03C","#FBD03C","#F9F72A"]},"legend":null},"order":{"value":null}}},
{"transform":[{"filter":"datum.e!=1"}],"mark":{"type":"line","stroke":"#1a1a1a","strokeWidth":1.5,"interpolate":"catmull-rom"},"encoding":{"detail":{"field":"k"},"order":{"value":null}}},
{"data":{"name":"lb"},"mark":{"type":"text","fontSize":27,"strokeWidth":5,"clip":true},"encoding":{"text":{"field":"t"},"angle":{"field":"a","type":"quantitative","scale":null},"stroke":{"field":"k","type":"ordinal","scale":{"domain":[0,1,2,3,4,5,6,7,8,9,10],"range":["#3A2E9F","#4340D6","#4465F2","#2F85EA","#2BA3DC","#21BBB8","#50CA8A","#A9C23F","#EDB03C","#FBD03C","#F9F72A"]},"legend":null}}},
{"data":{"name":"lb"},"mark":{"type":"text","fontSize":27,"fill":"#000"},"encoding":{"text":{"field":"t"},"angle":{"field":"a","type":"quantitative","scale":null}}},
{"data":{"values":[{"x":400,"y":8.85,"y2":1.33}]},"mark":{"type":"rule","strokeDash":[2,7],"strokeWidth":2,"stroke":"#222"},"encoding":{"y2":{"field":"y2"}}},
{"data":{"values":[{"x":350,"x2":800,"y":3}]},"mark":{"type":"rule","strokeDash":[2,7],"strokeWidth":2,"stroke":"#222"},"encoding":{"x2":{"field":"x2"}}},
{"data":{"values":[{"x":350,"x2":800,"y":1.33,"y2":8.85}]},"mark":{"type":"rect","fillOpacity":0,"stroke":"#666","strokeWidth":1.5},"encoding":{"x2":{"field":"x2"},"y2":{"field":"y2"}}}
]},
{"width":54,"height":323,"data":{"values":[{"x":0,"x2":1,"y":8.673,"y2":8.872}]},"encoding":{"x":{"field":"x","type":"quantitative","scale":{"domain":[0,1],"nice":false},"axis":null},"y":{"field":"y","type":"quantitative","scale":{"domain":[8.673,8.872],"nice":false,"zero":false},"axis":{"orient":"right","values":[8.7,8.75,8.8,8.85],"format":"~g","title":null,"labelPadding":16}}},"layer":[{"mark":{"type":"rect","stroke":"#444","strokeWidth":1.2,"fill":{"gradient":"linear","x1":0,"y1":1,"x2":0,"y2":0,"stops":[{"offset":0,"color":"#3A2A93"},{"offset":0.08,"color":"#4232C4"},{"offset":0.17,"color":"#4458EE"},{"offset":0.27,"color":"#3080EC"},{"offset":0.38,"color":"#2AA0DC"},{"offset":0.47,"color":"#1FB8C6"},{"offset":0.55,"color":"#2CC0AE"},{"offset":0.62,"color":"#55C885"},{"offset":0.7,"color":"#90C650"},{"offset":0.76,"color":"#C8BE3C"},{"offset":0.81,"color":"#F5B042"},{"offset":0.9,"color":"#FBD03C"},{"offset":1,"color":"#F9F91F"}]}},"encoding":{"x2":{"field":"x2"},"y2":{"field":"y2"}}},{"data":{"values":[{"x":0.03,"x2":0.88,"y":8.681,"y2":8.842}]},"mark":{"type":"rule","stroke":"#fff","strokeDash":[6,4],"opacity":0.45,"strokeWidth":1},"encoding":{"x2":{"field":"x2"},"y2":{"field":"y2"}}}]},
{"width":6,"height":362,"data":{"values":[{}]},"mark":{"type":"rule","opacity":0},"encoding":{}},
{"width":413,"height":323,"title":"Lower NewRE: Surface","data":{"name":"c"},"encoding":{"x":{"field":"x","type":"quantitative","scale":{"domain":[350,800],"nice":false,"zero":false},"axis":{"title":"pCO₂ (μatm)","values":[400,500,600,700,800],"titlePadding":10}},"y":{"field":"y","type":"quantitative","scale":{"domain":[1.33,8.85],"nice":false,"zero":false},"axis":{"title":null,"values":[2,4,6,8],"labelPadding":16}}},"layer":[
{"mark":{"type":"line","strokeWidth":0},"encoding":{"fill":{"field":"k","type":"ordinal","scale":{"domain":[0,1,2,3,4,5,6,7,8,9,10],"range":["#372C93","#3F33B5","#4450E8","#3480EE","#2BA3DC","#1FB8C6","#45C98F","#8BC850","#E9B23C","#FBD03C","#F9F72A"]},"legend":null},"order":{"value":null}}},
{"transform":[{"filter":"datum.e!=1"}],"mark":{"type":"line","stroke":"#1a1a1a","strokeWidth":1.5,"interpolate":"catmull-rom"},"encoding":{"detail":{"field":"k"},"order":{"value":null}}},
{"data":{"name":"lc"},"mark":{"type":"text","fontSize":27,"strokeWidth":5,"clip":true},"encoding":{"text":{"field":"t"},"angle":{"field":"a","type":"quantitative","scale":null},"stroke":{"field":"k","type":"ordinal","scale":{"domain":[0,1,2,3,4,5,6,7,8,9,10],"range":["#372C93","#3F33B5","#4450E8","#3480EE","#2BA3DC","#1FB8C6","#45C98F","#8BC850","#E9B23C","#FBD03C","#F9F72A"]},"legend":null}}},
{"data":{"name":"lc"},"mark":{"type":"text","fontSize":27,"fill":"#000"},"encoding":{"text":{"field":"t"},"angle":{"field":"a","type":"quantitative","scale":null}}},
{"data":{"values":[{"x":400,"y":8.85,"y2":1.33}]},"mark":{"type":"rule","strokeDash":[2,7],"strokeWidth":2,"stroke":"#222"},"encoding":{"y2":{"field":"y2"}}},
{"data":{"values":[{"x":350,"x2":800,"y":3}]},"mark":{"type":"rule","strokeDash":[2,7],"strokeWidth":2,"stroke":"#222"},"encoding":{"x2":{"field":"x2"}}},
{"data":{"values":[{"x":350,"x2":800,"y":1.33,"y2":8.85}]},"mark":{"type":"rect","fillOpacity":0,"stroke":"#666","strokeWidth":1.5},"encoding":{"x2":{"field":"x2"},"y2":{"field":"y2"}}}
]},
{"width":53,"height":323,"data":{"values":[{"x":0,"x2":1,"y":8.79,"y2":8.981}]},"encoding":{"x":{"field":"x","type":"quantitative","scale":{"domain":[0,1],"nice":false},"axis":null},"y":{"field":"y","type":"quantitative","scale":{"domain":[8.79,8.981],"nice":false,"zero":false},"axis":{"orient":"right","values":[8.8,8.85,8.9,8.95],"format":"~g","title":"pHₑₛₜ","titleFontSize":31,"titleAngle":270,"titleBaseline":"top","titlePadding":17,"labelPadding":16}}},"layer":[{"mark":{"type":"rect","stroke":"#444","strokeWidth":1.2,"fill":{"gradient":"linear","x1":0,"y1":1,"x2":0,"y2":0,"stops":[{"offset":0,"color":"#3A2A93"},{"offset":0.08,"color":"#4232C4"},{"offset":0.17,"color":"#4458EE"},{"offset":0.27,"color":"#3080EC"},{"offset":0.38,"color":"#2AA0DC"},{"offset":0.47,"color":"#1FB8C6"},{"offset":0.55,"color":"#2CC0AE"},{"offset":0.62,"color":"#55C885"},{"offset":0.7,"color":"#90C650"},{"offset":0.76,"color":"#C8BE3C"},{"offset":0.81,"color":"#F5B042"},{"offset":0.9,"color":"#FBD03C"},{"offset":1,"color":"#F9F91F"}]}},"encoding":{"x2":{"field":"x2"},"y2":{"field":"y2"}}},{"data":{"values":[{"x":0.03,"x2":0.88,"y":8.798,"y2":8.952}]},"mark":{"type":"rule","stroke":"#fff","strokeDash":[6,4],"opacity":0.45,"strokeWidth":1},"encoding":{"x2":{"field":"x2"},"y2":{"field":"y2"}}}]},

{"width":413,"height":332,"title":"Upper NewRE: Bottom","data":{"name":"d"},"encoding":{"x":{"field":"x","type":"quantitative","scale":{"domain":[350,800],"nice":false,"zero":false},"axis":{"title":"pCO₂ (μatm)","values":[400,500,600,700,800],"titlePadding":10}},"y":{"field":"y","type":"quantitative","scale":{"domain":[1.33,8.85],"nice":false,"zero":false},"axis":{"title":"River Discharge (m³ s⁻¹)","values":[2,4,6,8],"titlePadding":8,"labelPadding":16}}},"layer":[
{"mark":{"type":"line","strokeWidth":0},"encoding":{"fill":{"field":"k","type":"ordinal","scale":{"domain":[0,1,2,3,4,5,6,7,8,9,10],"range":["#3A2E9F","#4340D6","#4465F2","#2F85EA","#2BA3DC","#1FB8BE","#50C888","#ABC23E","#E7B23E","#FBD03C","#F9F72A"]},"legend":null},"order":{"value":null}}},
{"transform":[{"filter":"datum.e!=1"}],"mark":{"type":"line","stroke":"#1a1a1a","strokeWidth":1.5,"interpolate":"catmull-rom"},"encoding":{"detail":{"field":"k"},"order":{"value":null}}},
{"data":{"name":"ld"},"mark":{"type":"text","fontSize":27,"strokeWidth":5,"clip":true},"encoding":{"text":{"field":"t"},"angle":{"field":"a","type":"quantitative","scale":null},"stroke":{"field":"k","type":"ordinal","scale":{"domain":[0,1,2,3,4,5,6,7,8,9,10],"range":["#3A2E9F","#4340D6","#4465F2","#2F85EA","#2BA3DC","#1FB8BE","#50C888","#ABC23E","#E7B23E","#FBD03C","#F9F72A"]},"legend":null}}},
{"data":{"name":"ld"},"mark":{"type":"text","fontSize":27,"fill":"#000"},"encoding":{"text":{"field":"t"},"angle":{"field":"a","type":"quantitative","scale":null}}},
{"data":{"values":[{"x":400,"y":8.85,"y2":1.33}]},"mark":{"type":"rule","strokeDash":[2,7],"strokeWidth":2,"stroke":"#222"},"encoding":{"y2":{"field":"y2"}}},
{"data":{"values":[{"x":350,"x2":800,"y":3}]},"mark":{"type":"rule","strokeDash":[2,7],"strokeWidth":2,"stroke":"#222"},"encoding":{"x2":{"field":"x2"}}},
{"data":{"values":[{"x":350,"x2":800,"y":1.33,"y2":8.85}]},"mark":{"type":"rect","fillOpacity":0,"stroke":"#666","strokeWidth":1.5},"encoding":{"x2":{"field":"x2"},"y2":{"field":"y2"}}}
]},
{"width":53,"height":330,"data":{"values":[{"x":0,"x2":1,"y":7.639,"y2":8.111}]},"encoding":{"x":{"field":"x","type":"quantitative","scale":{"domain":[0,1],"nice":false},"axis":null},"y":{"field":"y","type":"quantitative","scale":{"domain":[7.639,8.111],"nice":false,"zero":false},"axis":{"orient":"right","values":[7.7,7.8,7.9,8,8.1],"format":"~g","title":null,"labelPadding":16}}},"layer":[{"mark":{"type":"rect","stroke":"#444","strokeWidth":1.2,"fill":{"gradient":"linear","x1":0,"y1":1,"x2":0,"y2":0,"stops":[{"offset":0,"color":"#3A2A93"},{"offset":0.08,"color":"#4232C4"},{"offset":0.17,"color":"#4458EE"},{"offset":0.27,"color":"#3080EC"},{"offset":0.38,"color":"#2AA0DC"},{"offset":0.47,"color":"#1FB8C6"},{"offset":0.55,"color":"#2CC0AE"},{"offset":0.62,"color":"#55C885"},{"offset":0.7,"color":"#90C650"},{"offset":0.76,"color":"#C8BE3C"},{"offset":0.81,"color":"#F5B042"},{"offset":0.9,"color":"#FBD03C"},{"offset":1,"color":"#F9F91F"}]}},"encoding":{"x2":{"field":"x2"},"y2":{"field":"y2"}}},{"data":{"values":[{"x":0.03,"x2":0.88,"y":7.658,"y2":8.04}]},"mark":{"type":"rule","stroke":"#fff","strokeDash":[6,4],"opacity":0.45,"strokeWidth":1},"encoding":{"x2":{"field":"x2"},"y2":{"field":"y2"}}}]},
{"width":7,"height":365,"data":{"values":[{}]},"mark":{"type":"rule","opacity":0},"encoding":{}},
{"width":414,"height":323,"title":"Middle NewRE: Bottom","data":{"name":"e"},"encoding":{"x":{"field":"x","type":"quantitative","scale":{"domain":[350,800],"nice":false,"zero":false},"axis":{"title":"pCO₂ (μatm)","values":[400,500,600,700,800],"titlePadding":10}},"y":{"field":"y","type":"quantitative","scale":{"domain":[1.33,8.85],"nice":false,"zero":false},"axis":{"title":null,"values":[2,4,6,8],"labelPadding":16}}},"layer":[
{"mark":{"type":"line","strokeWidth":0},"encoding":{"fill":{"field":"k","type":"ordinal","scale":{"domain":[0,1,2,3,4,5,6,7,8,9,10],"range":["#3A2E9F","#4340D6","#4465F2","#2F85EA","#2BA3DC","#1FB8BE","#50C888","#ABC23E","#E7B23E","#FBD03C","#F9F72A"]},"legend":null},"order":{"value":null}}},
{"transform":[{"filter":"datum.e!=1"}],"mark":{"type":"line","stroke":"#1a1a1a","strokeWidth":1.5,"interpolate":"catmull-rom"},"encoding":{"detail":{"field":"k"},"order":{"value":null}}},
{"data":{"name":"le"},"mark":{"type":"text","fontSize":27,"strokeWidth":5,"clip":true},"encoding":{"text":{"field":"t"},"angle":{"field":"a","type":"quantitative","scale":null},"stroke":{"field":"k","type":"ordinal","scale":{"domain":[0,1,2,3,4,5,6,7,8,9,10],"range":["#3A2E9F","#4340D6","#4465F2","#2F85EA","#2BA3DC","#1FB8BE","#50C888","#ABC23E","#E7B23E","#FBD03C","#F9F72A"]},"legend":null}}},
{"data":{"name":"le"},"mark":{"type":"text","fontSize":27,"fill":"#000"},"encoding":{"text":{"field":"t"},"angle":{"field":"a","type":"quantitative","scale":null}}},
{"data":{"values":[{"x":400,"y":8.85,"y2":1.33}]},"mark":{"type":"rule","strokeDash":[2,7],"strokeWidth":2,"stroke":"#222"},"encoding":{"y2":{"field":"y2"}}},
{"data":{"values":[{"x":350,"x2":800,"y":3}]},"mark":{"type":"rule","strokeDash":[2,7],"strokeWidth":2,"stroke":"#222"},"encoding":{"x2":{"field":"x2"}}},
{"data":{"values":[{"x":350,"x2":800,"y":1.33,"y2":8.85}]},"mark":{"type":"rect","fillOpacity":0,"stroke":"#666","strokeWidth":1.5},"encoding":{"x2":{"field":"x2"},"y2":{"field":"y2"}}}
]},
{"width":54,"height":323,"data":{"values":[{"x":0,"x2":1,"y":7.455,"y2":7.943}]},"encoding":{"x":{"field":"x","type":"quantitative","scale":{"domain":[0,1],"nice":false},"axis":null},"y":{"field":"y","type":"quantitative","scale":{"domain":[7.455,7.943],"nice":false,"zero":false},"axis":{"orient":"right","values":[7.5,7.6,7.7,7.8,7.9],"format":"~g","title":null,"labelPadding":16}}},"layer":[{"mark":{"type":"rect","stroke":"#444","strokeWidth":1.2,"fill":{"gradient":"linear","x1":0,"y1":1,"x2":0,"y2":0,"stops":[{"offset":0,"color":"#3A2A93"},{"offset":0.08,"color":"#4232C4"},{"offset":0.17,"color":"#4458EE"},{"offset":0.27,"color":"#3080EC"},{"offset":0.38,"color":"#2AA0DC"},{"offset":0.47,"color":"#1FB8C6"},{"offset":0.55,"color":"#2CC0AE"},{"offset":0.62,"color":"#55C885"},{"offset":0.7,"color":"#90C650"},{"offset":0.76,"color":"#C8BE3C"},{"offset":0.81,"color":"#F5B042"},{"offset":0.9,"color":"#FBD03C"},{"offset":1,"color":"#F9F91F"}]}},"encoding":{"x2":{"field":"x2"},"y2":{"field":"y2"}}},{"data":{"values":[{"x":0.03,"x2":0.88,"y":7.475,"y2":7.87}]},"mark":{"type":"rule","stroke":"#fff","strokeDash":[6,4],"opacity":0.45,"strokeWidth":1},"encoding":{"x2":{"field":"x2"},"y2":{"field":"y2"}}}]},
{"width":6,"height":365,"data":{"values":[{}]},"mark":{"type":"rule","opacity":0},"encoding":{}},
{"width":413,"height":323,"title":"Lower NewRE: Bottom","data":{"name":"f"},"encoding":{"x":{"field":"x","type":"quantitative","scale":{"domain":[350,800],"nice":false,"zero":false},"axis":{"title":"pCO₂ (μatm)","values":[400,500,600,700,800],"titlePadding":10}},"y":{"field":"y","type":"quantitative","scale":{"domain":[1.33,8.85],"nice":false,"zero":false},"axis":{"title":null,"values":[2,4,6,8],"labelPadding":16}}},"layer":[
{"mark":{"type":"line","strokeWidth":0},"encoding":{"fill":{"field":"k","type":"ordinal","scale":{"domain":[0,1,2,3,4,5,6,7,8,9,10],"range":["#3A2E9F","#4340D6","#4465F2","#2F8FEA","#22ABD8","#2CC0B0","#50C888","#ABC23E","#E7B23E","#F8D23C","#F9F72A"]},"legend":null},"order":{"value":null}}},
{"transform":[{"filter":"datum.e!=1"}],"mark":{"type":"line","stroke":"#1a1a1a","strokeWidth":1.5,"interpolate":"catmull-rom"},"encoding":{"detail":{"field":"k"},"order":{"value":null}}},
{"data":{"name":"lf"},"mark":{"type":"text","fontSize":27,"strokeWidth":5,"clip":true},"encoding":{"text":{"field":"t"},"angle":{"field":"a","type":"quantitative","scale":null},"stroke":{"field":"k","type":"ordinal","scale":{"domain":[0,1,2,3,4,5,6,7,8,9,10],"range":["#3A2E9F","#4340D6","#4465F2","#2F8FEA","#22ABD8","#2CC0B0","#50C888","#ABC23E","#E7B23E","#F8D23C","#F9F72A"]},"legend":null}}},
{"data":{"name":"lf"},"mark":{"type":"text","fontSize":27,"fill":"#000"},"encoding":{"text":{"field":"t"},"angle":{"field":"a","type":"quantitative","scale":null}}},
{"data":{"values":[{"x":400,"y":8.85,"y2":1.33}]},"mark":{"type":"rule","strokeDash":[2,7],"strokeWidth":2,"stroke":"#222"},"encoding":{"y2":{"field":"y2"}}},
{"data":{"values":[{"x":350,"x2":800,"y":3}]},"mark":{"type":"rule","strokeDash":[2,7],"strokeWidth":2,"stroke":"#222"},"encoding":{"x2":{"field":"x2"}}},
{"data":{"values":[{"x":350,"x2":800,"y":1.33,"y2":8.85}]},"mark":{"type":"rect","fillOpacity":0,"stroke":"#666","strokeWidth":1.5},"encoding":{"x2":{"field":"x2"},"y2":{"field":"y2"}}}
]},
{"width":53,"height":323,"data":{"values":[{"x":0,"x2":1,"y":7.322,"y2":7.763}]},"encoding":{"x":{"field":"x","type":"quantitative","scale":{"domain":[0,1],"nice":false},"axis":null},"y":{"field":"y","type":"quantitative","scale":{"domain":[7.322,7.763],"nice":false,"zero":false},"axis":{"orient":"right","values":[7.4,7.5,7.6,7.7],"format":"~g","title":"pHₑₛₜ","titleFontSize":31,"titleAngle":270,"titleBaseline":"top","titlePadding":17,"labelPadding":16}}},"layer":[{"mark":{"type":"rect","stroke":"#444","strokeWidth":1.2,"fill":{"gradient":"linear","x1":0,"y1":1,"x2":0,"y2":0,"stops":[{"offset":0,"color":"#3A2A93"},{"offset":0.08,"color":"#4232C4"},{"offset":0.17,"color":"#4458EE"},{"offset":0.27,"color":"#3080EC"},{"offset":0.38,"color":"#2AA0DC"},{"offset":0.47,"color":"#1FB8C6"},{"offset":0.55,"color":"#2CC0AE"},{"offset":0.62,"color":"#55C885"},{"offset":0.7,"color":"#90C650"},{"offset":0.76,"color":"#C8BE3C"},{"offset":0.81,"color":"#F5B042"},{"offset":0.9,"color":"#FBD03C"},{"offset":1,"color":"#F9F91F"}]}},"encoding":{"x2":{"field":"x2"},"y2":{"field":"y2"}}},{"data":{"values":[{"x":0.03,"x2":0.88,"y":7.34,"y2":7.697}]},"mark":{"type":"rule","stroke":"#fff","strokeDash":[6,4],"opacity":0.45,"strokeWidth":1},"encoding":{"x2":{"field":"x2"},"y2":{"field":"y2"}}}]},

{"width":413,"height":323,"title":{"text":"Upper NeuseRE: Surface","dx":4.5},"data":{"name":"g"},"encoding":{"x":{"field":"x","type":"quantitative","scale":{"domain":[350,800],"range":[10,413],"nice":false,"zero":false},"axis":{"title":"pCO₂ (μatm)","values":[400,500,600,700,800],"titlePadding":10}},"y":{"field":"y","type":"quantitative","scale":{"domain":[81.7,221.3],"nice":false,"zero":false},"axis":{"title":"River Discharge (m³ s⁻¹)","values":[100,150,200],"titlePadding":16,"labelPadding":12,"offset":-10}}},"layer":[
{"mark":{"type":"line","strokeWidth":0},"encoding":{"fill":{"field":"k","type":"ordinal","scale":{"domain":[0,1,2,3,4,5,6,7,8,9,10],"range":["#3A2E9F","#4340D6","#4465F2","#2F85EA","#2BA3DC","#1FB8C6","#50C888","#80C95C","#E9B040","#FDC238","#F9F72A"]},"legend":null},"order":{"value":null}}},
{"transform":[{"filter":"datum.e!=1"}],"mark":{"type":"line","stroke":"#1a1a1a","strokeWidth":1.5,"interpolate":"catmull-rom"},"encoding":{"detail":{"field":"k"},"order":{"value":null}}},
{"data":{"name":"lg"},"mark":{"type":"text","fontSize":27,"strokeWidth":5,"clip":true},"encoding":{"text":{"field":"t"},"angle":{"field":"a","type":"quantitative","scale":null},"stroke":{"field":"k","type":"ordinal","scale":{"domain":[0,1,2,3,4,5,6,7,8,9,10],"range":["#3A2E9F","#4340D6","#4465F2","#2F85EA","#2BA3DC","#1FB8C6","#50C888","#80C95C","#E9B040","#FDC238","#F9F72A"]},"legend":null}}},
{"data":{"name":"lg"},"mark":{"type":"text","fontSize":27,"fill":"#000"},"encoding":{"text":{"field":"t"},"angle":{"field":"a","type":"quantitative","scale":null}}},
{"data":{"values":[{"x":400,"y":221.3,"y2":81.7}]},"mark":{"type":"rule","strokeDash":[2,7],"strokeWidth":2,"stroke":"#222"},"encoding":{"y2":{"field":"y2"}}},
{"data":{"values":[{"x":350,"x2":800,"y":113}]},"mark":{"type":"rule","strokeDash":[2,7],"strokeWidth":2,"stroke":"#222"},"encoding":{"x2":{"field":"x2"}}},
{"data":{"values":[{"x":350,"x2":800,"y":81.7,"y2":221.3}]},"mark":{"type":"rect","fillOpacity":0,"stroke":"#666","strokeWidth":1.5},"encoding":{"x2":{"field":"x2"},"y2":{"field":"y2"}}}
]},
{"width":53,"height":323,"data":{"values":[{"x":0,"x2":1,"y":7.291,"y2":7.441}]},"encoding":{"x":{"field":"x","type":"quantitative","scale":{"domain":[0,1],"nice":false},"axis":null},"y":{"field":"y","type":"quantitative","scale":{"domain":[7.291,7.441],"nice":false,"zero":false},"axis":{"orient":"right","values":[7.3,7.35,7.4],"format":"~g","title":null,"labelPadding":16}}},"layer":[{"mark":{"type":"rect","stroke":"#444","strokeWidth":1.2,"fill":{"gradient":"linear","x1":0,"y1":1,"x2":0,"y2":0,"stops":[{"offset":0,"color":"#3A2A93"},{"offset":0.08,"color":"#4232C4"},{"offset":0.17,"color":"#4458EE"},{"offset":0.27,"color":"#3080EC"},{"offset":0.38,"color":"#2AA0DC"},{"offset":0.47,"color":"#1FB8C6"},{"offset":0.55,"color":"#2CC0AE"},{"offset":0.62,"color":"#55C885"},{"offset":0.7,"color":"#90C650"},{"offset":0.76,"color":"#C8BE3C"},{"offset":0.81,"color":"#F5B042"},{"offset":0.9,"color":"#FBD03C"},{"offset":1,"color":"#F9F91F"}]}},"encoding":{"x2":{"field":"x2"},"y2":{"field":"y2"}}},{"data":{"values":[{"x":0.03,"x2":0.88,"y":7.297,"y2":7.419}]},"mark":{"type":"rule","stroke":"#fff","strokeDash":[6,4],"opacity":0.45,"strokeWidth":1},"encoding":{"x2":{"field":"x2"},"y2":{"field":"y2"}}}]},
{"width":7,"height":363,"data":{"values":[{}]},"mark":{"type":"rule","opacity":0},"encoding":{}},
{"width":414,"height":323,"title":{"text":"Middle NeuseRE: Surface","dx":3},"data":{"name":"h"},"encoding":{"x":{"field":"x","type":"quantitative","scale":{"domain":[350,800],"range":[10,414],"nice":false,"zero":false},"axis":{"title":"pCO₂ (μatm)","values":[400,500,600,700,800],"titlePadding":10}},"y":{"field":"y","type":"quantitative","scale":{"domain":[81.7,221.3],"nice":false,"zero":false},"axis":{"title":null,"values":[100,150,200],"labelPadding":15,"offset":-10}}},"layer":[
{"mark":{"type":"line","strokeWidth":0},"encoding":{"fill":{"field":"k","type":"ordinal","scale":{"domain":[0,1,2,3,4,5,6,7,8,9,10],"range":["#3A2E9F","#4340D6","#4465F2","#2F8BEA","#22AEDA","#2CC0AE","#50C888","#9FC343","#EAB23C","#FBCF3C","#F9F72A"]},"legend":null},"order":{"value":null}}},
{"transform":[{"filter":"datum.e!=1"}],"mark":{"type":"line","stroke":"#1a1a1a","strokeWidth":1.5,"interpolate":"catmull-rom"},"encoding":{"detail":{"field":"k"},"order":{"value":null}}},
{"data":{"name":"lh"},"mark":{"type":"text","fontSize":27,"strokeWidth":5,"clip":true},"encoding":{"text":{"field":"t"},"angle":{"field":"a","type":"quantitative","scale":null},"stroke":{"field":"k","type":"ordinal","scale":{"domain":[0,1,2,3,4,5,6,7,8,9,10],"range":["#3A2E9F","#4340D6","#4465F2","#2F8BEA","#22AEDA","#2CC0AE","#50C888","#9FC343","#EAB23C","#FBCF3C","#F9F72A"]},"legend":null}}},
{"data":{"name":"lh"},"mark":{"type":"text","fontSize":27,"fill":"#000"},"encoding":{"text":{"field":"t"},"angle":{"field":"a","type":"quantitative","scale":null}}},
{"data":{"values":[{"x":400,"y":221.3,"y2":81.7}]},"mark":{"type":"rule","strokeDash":[2,7],"strokeWidth":2,"stroke":"#222"},"encoding":{"y2":{"field":"y2"}}},
{"data":{"values":[{"x":350,"x2":800,"y":113}]},"mark":{"type":"rule","strokeDash":[2,7],"strokeWidth":2,"stroke":"#222"},"encoding":{"x2":{"field":"x2"}}},
{"data":{"values":[{"x":350,"x2":800,"y":81.7,"y2":221.3}]},"mark":{"type":"rect","fillOpacity":0,"stroke":"#666","strokeWidth":1.5},"encoding":{"x2":{"field":"x2"},"y2":{"field":"y2"}}}
]},
{"width":54,"height":323,"data":{"values":[{"x":0,"x2":1,"y":7.782,"y2":8.082}]},"encoding":{"x":{"field":"x","type":"quantitative","scale":{"domain":[0,1],"nice":false},"axis":null},"y":{"field":"y","type":"quantitative","scale":{"domain":[7.782,8.082],"nice":false,"zero":false},"axis":{"orient":"right","values":[7.8,7.85,7.9,7.95,8,8.05],"format":"~g","title":null,"labelPadding":16}}},"layer":[{"mark":{"type":"rect","stroke":"#444","strokeWidth":1.2,"fill":{"gradient":"linear","x1":0,"y1":1,"x2":0,"y2":0,"stops":[{"offset":0,"color":"#3A2A93"},{"offset":0.08,"color":"#4232C4"},{"offset":0.17,"color":"#4458EE"},{"offset":0.27,"color":"#3080EC"},{"offset":0.38,"color":"#2AA0DC"},{"offset":0.47,"color":"#1FB8C6"},{"offset":0.55,"color":"#2CC0AE"},{"offset":0.62,"color":"#55C885"},{"offset":0.7,"color":"#90C650"},{"offset":0.76,"color":"#C8BE3C"},{"offset":0.81,"color":"#F5B042"},{"offset":0.9,"color":"#FBD03C"},{"offset":1,"color":"#F9F91F"}]}},"encoding":{"x2":{"field":"x2"},"y2":{"field":"y2"}}},{"data":{"values":[{"x":0.03,"x2":0.88,"y":7.794,"y2":8.037}]},"mark":{"type":"rule","stroke":"#fff","strokeDash":[6,4],"opacity":0.45,"strokeWidth":1},"encoding":{"x2":{"field":"x2"},"y2":{"field":"y2"}}}]},
{"width":6,"height":363,"data":{"values":[{}]},"mark":{"type":"rule","opacity":0},"encoding":{}},
{"width":413,"height":323,"title":{"text":"Lower NeuseRE: Surface","dx":5.5},"data":{"name":"i"},"encoding":{"x":{"field":"x","type":"quantitative","scale":{"domain":[350,800],"range":[11,413],"nice":false,"zero":false},"axis":{"title":"pCO₂ (μatm)","values":[400,500,600,700,800],"titlePadding":10}},"y":{"field":"y","type":"quantitative","scale":{"domain":[81.7,221.3],"nice":false,"zero":false},"axis":{"title":null,"values":[100,150,200],"labelPadding":17,"offset":-11}}},"layer":[
{"mark":{"type":"line","strokeWidth":0},"encoding":{"fill":{"field":"k","type":"ordinal","scale":{"domain":[0,1,2,3,4,5,6,7,8,9,10],"range":["#3A2E9F","#4340D6","#4465F2","#2F85EA","#2BA3DC","#27BEB6","#52C98A","#A8C440","#EDB23C","#FBCF3C","#F9F72A"]},"legend":null},"order":{"value":null}}},
{"transform":[{"filter":"datum.e!=1"}],"mark":{"type":"line","stroke":"#1a1a1a","strokeWidth":1.5,"interpolate":"catmull-rom"},"encoding":{"detail":{"field":"k"},"order":{"value":null}}},
{"data":{"name":"li"},"mark":{"type":"text","fontSize":27,"strokeWidth":5,"clip":true},"encoding":{"text":{"field":"t"},"angle":{"field":"a","type":"quantitative","scale":null},"stroke":{"field":"k","type":"ordinal","scale":{"domain":[0,1,2,3,4,5,6,7,8,9,10],"range":["#3A2E9F","#4340D6","#4465F2","#2F85EA","#2BA3DC","#27BEB6","#52C98A","#A8C440","#EDB23C","#FBCF3C","#F9F72A"]},"legend":null}}},
{"data":{"name":"li"},"mark":{"type":"text","fontSize":27,"fill":"#000"},"encoding":{"text":{"field":"t"},"angle":{"field":"a","type":"quantitative","scale":null}}},
{"data":{"values":[{"x":400,"y":221.3,"y2":81.7}]},"mark":{"type":"rule","strokeDash":[2,7],"strokeWidth":2,"stroke":"#222"},"encoding":{"y2":{"field":"y2"}}},
{"data":{"values":[{"x":350,"x2":800,"y":113}]},"mark":{"type":"rule","strokeDash":[2,7],"strokeWidth":2,"stroke":"#222"},"encoding":{"x2":{"field":"x2"}}},
{"data":{"values":[{"x":350,"x2":800,"y":81.7,"y2":221.3}]},"mark":{"type":"rect","fillOpacity":0,"stroke":"#666","strokeWidth":1.5},"encoding":{"x2":{"field":"x2"},"y2":{"field":"y2"}}}
]},
{"width":53,"height":323,"data":{"values":[{"x":0,"x2":1,"y":8.62,"y2":8.822}]},"encoding":{"x":{"field":"x","type":"quantitative","scale":{"domain":[0,1],"nice":false},"axis":null},"y":{"field":"y","type":"quantitative","scale":{"domain":[8.62,8.822],"nice":false,"zero":false},"axis":{"orient":"right","values":[8.65,8.7,8.75,8.8],"format":"~g","title":"pHₑₛₜ","titleFontSize":31,"titleAngle":270,"titleBaseline":"top","titlePadding":17,"labelPadding":16}}},"layer":[{"mark":{"type":"rect","stroke":"#444","strokeWidth":1.2,"fill":{"gradient":"linear","x1":0,"y1":1,"x2":0,"y2":0,"stops":[{"offset":0,"color":"#3A2A93"},{"offset":0.08,"color":"#4232C4"},{"offset":0.17,"color":"#4458EE"},{"offset":0.27,"color":"#3080EC"},{"offset":0.38,"color":"#2AA0DC"},{"offset":0.47,"color":"#1FB8C6"},{"offset":0.55,"color":"#2CC0AE"},{"offset":0.62,"color":"#55C885"},{"offset":0.7,"color":"#90C650"},{"offset":0.76,"color":"#C8BE3C"},{"offset":0.81,"color":"#F5B042"},{"offset":0.9,"color":"#FBD03C"},{"offset":1,"color":"#F9F91F"}]}},"encoding":{"x2":{"field":"x2"},"y2":{"field":"y2"}}},{"data":{"values":[{"x":0.03,"x2":0.88,"y":8.628,"y2":8.792}]},"mark":{"type":"rule","stroke":"#fff","strokeDash":[6,4],"opacity":0.45,"strokeWidth":1},"encoding":{"x2":{"field":"x2"},"y2":{"field":"y2"}}}]},

{"width":413,"height":323,"title":{"text":"Upper NeuseRE: Bottom","dx":4.5},"data":{"name":"j"},"encoding":{"x":{"field":"x","type":"quantitative","scale":{"domain":[350,800],"range":[10,413],"nice":false,"zero":false},"axis":{"title":"pCO₂ (μatm)","values":[400,500,600,700,800],"titlePadding":10}},"y":{"field":"y","type":"quantitative","scale":{"domain":[81.8,221.5],"nice":false,"zero":false},"axis":{"title":"River Discharge (m³ s⁻¹)","values":[100,150,200],"titlePadding":16,"labelPadding":12,"offset":-10}}},"layer":[
{"mark":{"type":"line","strokeWidth":0},"encoding":{"fill":{"field":"k","type":"ordinal","scale":{"domain":[0,1,2,3,4,5,6,7,8,9,10],"range":["#3A2E9F","#4340D6","#4465F2","#2F85EA","#2BA3DC","#1FB8C6","#50C888","#80C95C","#E9B040","#FDC238","#F9F72A"]},"legend":null},"order":{"value":null}}},
{"transform":[{"filter":"datum.e!=1"}],"mark":{"type":"line","stroke":"#1a1a1a","strokeWidth":1.5,"interpolate":"catmull-rom"},"encoding":{"detail":{"field":"k"},"order":{"value":null}}},
{"data":{"name":"lj"},"mark":{"type":"text","fontSize":27,"strokeWidth":5,"clip":true},"encoding":{"text":{"field":"t"},"angle":{"field":"a","type":"quantitative","scale":null},"stroke":{"field":"k","type":"ordinal","scale":{"domain":[0,1,2,3,4,5,6,7,8,9,10],"range":["#3A2E9F","#4340D6","#4465F2","#2F85EA","#2BA3DC","#1FB8C6","#50C888","#80C95C","#E9B040","#FDC238","#F9F72A"]},"legend":null}}},
{"data":{"name":"lj"},"mark":{"type":"text","fontSize":27,"fill":"#000"},"encoding":{"text":{"field":"t"},"angle":{"field":"a","type":"quantitative","scale":null}}},
{"data":{"values":[{"x":400,"y":221.5,"y2":81.8}]},"mark":{"type":"rule","strokeDash":[2,7],"strokeWidth":2,"stroke":"#222"},"encoding":{"y2":{"field":"y2"}}},
{"data":{"values":[{"x":350,"x2":800,"y":113}]},"mark":{"type":"rule","strokeDash":[2,7],"strokeWidth":2,"stroke":"#222"},"encoding":{"x2":{"field":"x2"}}},
{"data":{"values":[{"x":350,"x2":800,"y":81.8,"y2":221.5}]},"mark":{"type":"rect","fillOpacity":0,"stroke":"#666","strokeWidth":1.5},"encoding":{"x2":{"field":"x2"},"y2":{"field":"y2"}}}
]},
{"width":53,"height":323,"data":{"values":[{"x":0,"x2":1,"y":7.271,"y2":7.421}]},"encoding":{"x":{"field":"x","type":"quantitative","scale":{"domain":[0,1],"nice":false},"axis":null},"y":{"field":"y","type":"quantitative","scale":{"domain":[7.271,7.421],"nice":false,"zero":false},"axis":{"orient":"right","values":[7.28,7.3,7.32,7.34,7.36,7.38,7.4],"format":"~g","title":null,"labelPadding":16}}},"layer":[{"mark":{"type":"rect","stroke":"#444","strokeWidth":1.2,"fill":{"gradient":"linear","x1":0,"y1":1,"x2":0,"y2":0,"stops":[{"offset":0,"color":"#3A2A93"},{"offset":0.08,"color":"#4232C4"},{"offset":0.17,"color":"#4458EE"},{"offset":0.27,"color":"#3080EC"},{"offset":0.38,"color":"#2AA0DC"},{"offset":0.47,"color":"#1FB8C6"},{"offset":0.55,"color":"#2CC0AE"},{"offset":0.62,"color":"#55C885"},{"offset":0.7,"color":"#90C650"},{"offset":0.76,"color":"#C8BE3C"},{"offset":0.81,"color":"#F5B042"},{"offset":0.9,"color":"#FBD03C"},{"offset":1,"color":"#F9F91F"}]}},"encoding":{"x2":{"field":"x2"},"y2":{"field":"y2"}}},{"data":{"values":[{"x":0.03,"x2":0.88,"y":7.277,"y2":7.399}]},"mark":{"type":"rule","stroke":"#fff","strokeDash":[6,4],"opacity":0.45,"strokeWidth":1},"encoding":{"x2":{"field":"x2"},"y2":{"field":"y2"}}}]},
{"width":7,"height":323,"data":{"values":[{}]},"mark":{"type":"rule","opacity":0},"encoding":{}},
{"width":414,"height":323,"title":{"text":"Middle NeuseRE: Bottom","dx":3},"data":{"name":"m"},"encoding":{"x":{"field":"x","type":"quantitative","scale":{"domain":[350,800],"range":[10,414],"nice":false,"zero":false},"axis":{"title":"pCO₂ (μatm)","values":[400,500,600,700,800],"titlePadding":10}},"y":{"field":"y","type":"quantitative","scale":{"domain":[81.8,221.5],"nice":false,"zero":false},"axis":{"title":null,"values":[100,150,200],"labelPadding":15,"offset":-10}}},"layer":[
{"mark":{"type":"line","strokeWidth":0},"encoding":{"fill":{"field":"k","type":"ordinal","scale":{"domain":[0,1,2,3,4,5,6,7,8,9,10],"range":["#3A2E9F","#4340D6","#3F6BF0","#2F85EA","#2BA3DC","#24BDB8","#58CA80","#B8BE3A","#F5AF42","#F9D13C","#F9F72A"]},"legend":null},"order":{"value":null}}},
{"transform":[{"filter":"datum.e!=1"}],"mark":{"type":"line","stroke":"#1a1a1a","strokeWidth":1.5,"interpolate":"catmull-rom"},"encoding":{"detail":{"field":"k"},"order":{"value":null}}},
{"data":{"name":"lm"},"mark":{"type":"text","fontSize":27,"strokeWidth":5,"clip":true},"encoding":{"text":{"field":"t"},"angle":{"field":"a","type":"quantitative","scale":null},"stroke":{"field":"k","type":"ordinal","scale":{"domain":[0,1,2,3,4,5,6,7,8,9,10],"range":["#3A2E9F","#4340D6","#3F6BF0","#2F85EA","#2BA3DC","#24BDB8","#58CA80","#B8BE3A","#F5AF42","#F9D13C","#F9F72A"]},"legend":null}}},
{"data":{"name":"lm"},"mark":{"type":"text","fontSize":27,"fill":"#000"},"encoding":{"text":{"field":"t"},"angle":{"field":"a","type":"quantitative","scale":null}}},
{"data":{"values":[{"x":400,"y":221.5,"y2":81.8}]},"mark":{"type":"rule","strokeDash":[2,7],"strokeWidth":2,"stroke":"#222"},"encoding":{"y2":{"field":"y2"}}},
{"data":{"values":[{"x":350,"x2":800,"y":113}]},"mark":{"type":"rule","strokeDash":[2,7],"strokeWidth":2,"stroke":"#222"},"encoding":{"x2":{"field":"x2"}}},
{"data":{"values":[{"x":350,"x2":800,"y":81.8,"y2":221.5}]},"mark":{"type":"rect","fillOpacity":0,"stroke":"#666","strokeWidth":1.5},"encoding":{"x2":{"field":"x2"},"y2":{"field":"y2"}}}
]},
{"width":54,"height":323,"data":{"values":[{"x":0,"x2":1,"y":7.384,"y2":7.602}]},"encoding":{"x":{"field":"x","type":"quantitative","scale":{"domain":[0,1],"nice":false},"axis":null},"y":{"field":"y","type":"quantitative","scale":{"domain":[7.384,7.602],"nice":false,"zero":false},"axis":{"orient":"right","values":[7.4,7.45,7.5,7.55,7.6],"format":"~g","title":null,"labelPadding":16}}},"layer":[{"mark":{"type":"rect","stroke":"#444","strokeWidth":1.2,"fill":{"gradient":"linear","x1":0,"y1":1,"x2":0,"y2":0,"stops":[{"offset":0,"color":"#3A2A93"},{"offset":0.08,"color":"#4232C4"},{"offset":0.17,"color":"#4458EE"},{"offset":0.27,"color":"#3080EC"},{"offset":0.38,"color":"#2AA0DC"},{"offset":0.47,"color":"#1FB8C6"},{"offset":0.55,"color":"#2CC0AE"},{"offset":0.62,"color":"#55C885"},{"offset":0.7,"color":"#90C650"},{"offset":0.76,"color":"#C8BE3C"},{"offset":0.81,"color":"#F5B042"},{"offset":0.9,"color":"#FBD03C"},{"offset":1,"color":"#F9F91F"}]}},"encoding":{"x2":{"field":"x2"},"y2":{"field":"y2"}}},{"data":{"values":[{"x":0.03,"x2":0.88,"y":7.393,"y2":7.569}]},"mark":{"type":"rule","stroke":"#fff","strokeDash":[6,4],"opacity":0.45,"strokeWidth":1},"encoding":{"x2":{"field":"x2"},"y2":{"field":"y2"}}}]},
{"width":6,"height":323,"data":{"values":[{}]},"mark":{"type":"rule","opacity":0},"encoding":{}},
{"width":413,"height":323,"title":{"text":"Lower NeuseRE: Bottom","dx":5.5},"data":{"name":"n"},"encoding":{"x":{"field":"x","type":"quantitative","scale":{"domain":[350,800],"range":[11,413],"nice":false,"zero":false},"axis":{"title":"pCO₂ (μatm)","values":[400,500,600,700,800],"titlePadding":10}},"y":{"field":"y","type":"quantitative","scale":{"domain":[81.8,221.5],"nice":false,"zero":false},"axis":{"title":null,"values":[100,150,200],"labelPadding":17,"offset":-11}}},"layer":[
{"mark":{"type":"line","strokeWidth":0},"encoding":{"fill":{"field":"k","type":"ordinal","scale":{"domain":[0,1,2,3,4,5,6,7,8,9,10],"range":["#3A2E9F","#4340D6","#4465F2","#2F85EA","#2BA8DC","#24BDB8","#50C888","#8CC850","#E2B53A","#F9CF3C","#F9F72A"]},"legend":null},"order":{"value":null}}},
{"transform":[{"filter":"datum.e!=1"}],"mark":{"type":"line","stroke":"#1a1a1a","strokeWidth":1.5,"interpolate":"catmull-rom"},"encoding":{"detail":{"field":"k"},"order":{"value":null}}},
{"data":{"name":"ln"},"mark":{"type":"text","fontSize":27,"strokeWidth":5,"clip":true},"encoding":{"text":{"field":"t"},"angle":{"field":"a","type":"quantitative","scale":null},"stroke":{"field":"k","type":"ordinal","scale":{"domain":[0,1,2,3,4,5,6,7,8,9,10],"range":["#3A2E9F","#4340D6","#4465F2","#2F85EA","#2BA8DC","#24BDB8","#50C888","#8CC850","#E2B53A","#F9CF3C","#F9F72A"]},"legend":null}}},
{"data":{"name":"ln"},"mark":{"type":"text","fontSize":27,"fill":"#000"},"encoding":{"text":{"field":"t"},"angle":{"field":"a","type":"quantitative","scale":null}}},
{"data":{"values":[{"x":400,"y":221.5,"y2":81.8}]},"mark":{"type":"rule","strokeDash":[2,7],"strokeWidth":2,"stroke":"#222"},"encoding":{"y2":{"field":"y2"}}},
{"data":{"values":[{"x":350,"x2":800,"y":113}]},"mark":{"type":"rule","strokeDash":[2,7],"strokeWidth":2,"stroke":"#222"},"encoding":{"x2":{"field":"x2"}}},
{"data":{"values":[{"x":350,"x2":800,"y":81.8,"y2":221.5}]},"mark":{"type":"rect","fillOpacity":0,"stroke":"#666","strokeWidth":1.5},"encoding":{"x2":{"field":"x2"},"y2":{"field":"y2"}}}
]},
{"width":53,"height":323,"data":{"values":[{"x":0,"x2":1,"y":7.322,"y2":7.603}]},"encoding":{"x":{"field":"x","type":"quantitative","scale":{"domain":[0,1],"nice":false},"axis":null},"y":{"field":"y","type":"quantitative","scale":{"domain":[7.322,7.603],"nice":false,"zero":false},"axis":{"orient":"right","values":[7.35,7.4,7.45,7.5,7.55,7.6],"format":"~g","title":"pHₑₛₜ","titleFontSize":31,"titleAngle":270,"titleBaseline":"top","titlePadding":17,"labelPadding":16}}},"layer":[{"mark":{"type":"rect","stroke":"#444","strokeWidth":1.2,"fill":{"gradient":"linear","x1":0,"y1":1,"x2":0,"y2":0,"stops":[{"offset":0,"color":"#3A2A93"},{"offset":0.08,"color":"#4232C4"},{"offset":0.17,"color":"#4458EE"},{"offset":0.27,"color":"#3080EC"},{"offset":0.38,"color":"#2AA0DC"},{"offset":0.47,"color":"#1FB8C6"},{"offset":0.55,"color":"#2CC0AE"},{"offset":0.62,"color":"#55C885"},{"offset":0.7,"color":"#90C650"},{"offset":0.76,"color":"#C8BE3C"},{"offset":0.81,"color":"#F5B042"},{"offset":0.9,"color":"#FBD03C"},{"offset":1,"color":"#F9F91F"}]}},"encoding":{"x2":{"field":"x2"},"y2":{"field":"y2"}}},{"data":{"values":[{"x":0.03,"x2":0.88,"y":7.333,"y2":7.561}]},"mark":{"type":"rule","stroke":"#fff","strokeDash":[6,4],"opacity":0.45,"strokeWidth":1},"encoding":{"x2":{"field":"x2"},"y2":{"field":"y2"}}}]}
]}
